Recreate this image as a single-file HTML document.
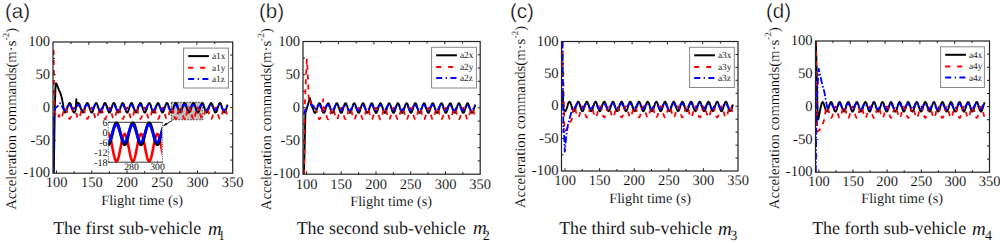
<!DOCTYPE html><html><head><meta charset="utf-8"><style>html,body{margin:0;padding:0;background:#fff;width:1000px;height:243px;overflow:hidden}text{text-rendering:geometricPrecision;stroke:#fff;stroke-width:0.12px;paint-order:fill}svg{display:block}</style></head><body>
<svg width="1000" height="243" viewBox="0 0 1000 243">
<g><text x="5.0" y="17.5" style="font-family:'Liberation Sans',sans-serif;font-size:20.5px;stroke-width:0.35px" fill="#000">(a)</text><text transform="translate(16.0,118.8) rotate(-90)" text-anchor="middle" style="font-family:'Liberation Serif',serif;font-size:14.7px" fill="#000">Acceleration commands(m·s<tspan dy="-7.5" style="font-size:9.5px">-2</tspan><tspan dy="7.5">)</tspan></text><text x="101.2" y="204.5" style="font-family:'Liberation Serif',serif;font-size:14.3px" fill="#000">Flight time (s)</text><text x="53.2" y="234.0" style="font-family:'Liberation Serif',serif;font-size:17.9px" fill="#000">The first sub-vehicle</text><text x="208.0" y="234.6" style="font-family:'Liberation Serif',serif;font-size:19px;font-style:italic" fill="#000">m</text><text x="218.0" y="239.6" style="font-family:'Liberation Serif',serif;font-size:14.2px" fill="#000">1</text><clipPath id="clip0"><rect x="53.0" y="42.0" width="179.7" height="131.2"/></clipPath><g clip-path="url(#clip0)" fill="none" stroke-width="1.8" stroke-linejoin="round"><path d="M53.8 173.2L54.8 107.6L55.5 86.0L56.0 83.3L56.9 84.6L58.9 89.9L60.4 93.2L61.8 97.8L62.9 103.7L63.9 109.6L64.6 112.2L64.9 112.5L65.1 112.6L65.4 112.6L65.6 112.4L65.9 112.1L66.1 111.6L66.4 111.1L66.6 110.4L66.8 109.7L67.1 108.9L67.3 108.1L67.6 107.2L67.8 106.4L68.1 105.6L68.3 104.9L68.6 104.3L68.8 103.8L69.1 103.4L69.3 103.1L69.6 103.0L69.8 103.0L70.1 103.2L70.3 103.5L70.5 104.0L70.8 104.6L71.0 105.2L71.3 106.0L71.5 106.8L71.8 107.6L72.0 108.4L72.3 109.2L72.5 110.0L72.8 110.7L73.0 111.3L73.3 111.8L73.5 112.2L73.8 112.5L74.0 112.6L74.2 112.5L74.5 112.4L74.7 112.0L75.0 111.6L75.2 111.0L75.5 110.3L75.7 109.6L75.8 109.2L76.3 99.1L76.7 106.4L76.7 106.3L77.0 105.5L77.2 104.8L77.5 104.2L77.7 103.7L77.9 103.3L78.2 103.1L78.4 103.0L78.7 103.1L78.9 103.3L79.2 103.6L79.4 104.1L79.7 104.6L79.9 105.3L80.2 106.1L80.4 106.9L80.7 107.7L80.9 108.5L81.2 109.4L81.4 110.1L81.6 110.8L81.9 111.4L82.1 111.9L82.4 112.3L82.6 112.5L82.9 112.6L83.1 112.5L83.4 112.3L83.6 112.0L83.9 111.5L84.1 110.9L84.4 110.2L84.6 109.5L84.9 108.7L85.1 107.8L85.3 107.0L85.6 106.2L85.8 105.4L86.1 104.7L86.3 104.1L86.6 103.7L86.8 103.3L87.1 103.1L87.3 103.0L87.6 103.1L87.8 103.3L88.1 103.7L88.3 104.1L88.6 104.7L88.8 105.4L89.0 106.2L89.3 107.0L89.5 107.8L89.8 108.7L90.0 109.5L90.3 110.2L90.5 110.9L90.8 111.5L91.0 112.0L91.3 112.3L91.5 112.5L91.8 112.6L92.0 112.5L92.3 112.3L92.5 111.9L92.7 111.4L93.0 110.8L93.2 110.1L93.5 109.4L93.7 108.5L94.0 107.7L94.2 106.9L94.5 106.1L94.7 105.3L95.0 104.6L95.2 104.1L95.5 103.6L95.7 103.3L96.0 103.1L96.2 103.0L96.4 103.1L96.7 103.3L96.9 103.7L97.2 104.2L97.4 104.8L97.7 105.5L97.9 106.3L98.2 107.1L98.4 107.9L98.7 108.8L98.9 109.6L99.2 110.3L99.4 111.0L99.7 111.6L99.9 112.0L100.1 112.4L100.4 112.5L100.6 112.6L100.9 112.5L101.1 112.2L101.4 111.8L101.6 111.3L101.9 110.7L102.1 110.0L102.4 109.2L102.6 108.4L102.9 107.6L103.1 106.8L103.4 106.0L103.6 105.2L103.8 104.6L104.1 104.0L104.3 103.5L104.6 103.2L104.8 103.0L105.1 103.0L105.3 103.1L105.6 103.4L105.8 103.8L106.1 104.3L106.3 104.9L106.6 105.6L106.8 106.4L107.1 107.2L107.3 108.1L107.5 108.9L107.8 109.7L108.0 110.4L108.3 111.1L108.5 111.6L108.8 112.1L109.0 112.4L109.3 112.6L109.5 112.6L109.8 112.5L110.0 112.2L110.3 111.8L110.5 111.3L110.8 110.6L111.0 109.9L111.2 109.1L111.5 108.3L111.7 107.5L112.0 106.6L112.2 105.8L112.5 105.1L112.7 104.5L113.0 103.9L113.2 103.5L113.5 103.2L113.7 103.0L114.0 103.0L114.2 103.2L114.5 103.4L114.7 103.8L114.9 104.4L115.2 105.0L115.4 105.7L115.7 106.5L115.9 107.3L116.2 108.2L116.4 109.0L116.7 109.8L116.9 110.5L117.2 111.2L117.4 111.7L117.7 112.1L117.9 112.4L118.2 112.6L118.4 112.6L118.6 112.4L118.9 112.1L119.1 111.7L119.4 111.2L119.6 110.5L119.9 109.8L120.1 109.0L120.4 108.2L120.6 107.3L120.9 106.5L121.1 105.7L121.4 105.0L121.6 104.4L121.8 103.8L122.1 103.4L122.3 103.2L122.6 103.0L122.8 103.0L123.1 103.2L123.3 103.5L123.6 103.9L123.8 104.5L124.1 105.1L124.3 105.8L124.6 106.6L124.8 107.5L125.1 108.3L125.3 109.1L125.5 109.9L125.8 110.6L126.0 111.3L126.3 111.8L126.5 112.2L126.8 112.5L127.0 112.6L127.3 112.6L127.5 112.4L127.8 112.1L128.0 111.6L128.3 111.1L128.5 110.4L128.8 109.7L129.0 108.9L129.2 108.1L129.5 107.2L129.7 106.4L130.0 105.6L130.2 104.9L130.5 104.3L130.7 103.8L131.0 103.4L131.2 103.1L131.5 103.0L131.7 103.0L132.0 103.2L132.2 103.5L132.5 104.0L132.7 104.6L132.9 105.2L133.2 106.0L133.4 106.8L133.7 107.6L133.9 108.4L134.2 109.2L134.4 110.0L134.7 110.7L134.9 111.3L135.2 111.8L135.4 112.2L135.7 112.5L135.9 112.6L136.2 112.5L136.4 112.4L136.6 112.0L136.9 111.6L137.1 111.0L137.4 110.3L137.6 109.6L137.9 108.8L138.1 107.9L138.4 107.1L138.6 106.3L138.9 105.5L139.1 104.8L139.4 104.2L139.6 103.7L139.9 103.3L140.1 103.1L140.3 103.0L140.6 103.1L140.8 103.3L141.1 103.6L141.3 104.1L141.6 104.6L141.8 105.3L142.1 106.1L142.3 106.9L142.6 107.7L142.8 108.5L143.1 109.4L143.3 110.1L143.6 110.8L143.8 111.4L144.0 111.9L144.3 112.3L144.5 112.5L144.8 112.6L145.0 112.5L145.3 112.3L145.5 112.0L145.8 111.5L146.0 110.9L146.3 110.2L146.5 109.5L146.8 108.7L147.0 107.8L147.3 107.0L147.5 106.2L147.7 105.4L148.0 104.7L148.2 104.1L148.5 103.7L148.7 103.3L149.0 103.1L149.2 103.0L149.5 103.1L149.7 103.3L150.0 103.7L150.2 104.1L150.5 104.7L150.7 105.4L151.0 106.2L151.2 107.0L151.4 107.8L151.7 108.7L151.9 109.5L152.2 110.2L152.4 110.9L152.7 111.5L152.9 112.0L153.2 112.3L153.4 112.5L153.7 112.6L153.9 112.5L154.2 112.3L154.4 111.9L154.7 111.4L154.9 110.8L155.1 110.1L155.4 109.4L155.6 108.5L155.9 107.7L156.1 106.9L156.4 106.1L156.6 105.3L156.9 104.6L157.1 104.1L157.4 103.6L157.6 103.3L157.9 103.1L158.1 103.0L158.4 103.1L158.6 103.3L158.8 103.7L159.1 104.2L159.3 104.8L159.6 105.5L159.8 106.3L160.1 107.1L160.3 107.9L160.6 108.8L160.8 109.6L161.1 110.3L161.3 111.0L161.6 111.6L161.8 112.0L162.1 112.4L162.3 112.5L162.5 112.6L162.8 112.5L163.0 112.2L163.3 111.8L163.5 111.3L163.8 110.7L164.0 110.0L164.3 109.2L164.5 108.4L164.8 107.6L165.0 106.8L165.3 106.0L165.5 105.2L165.8 104.6L166.0 104.0L166.2 103.5L166.5 103.2L166.7 103.0L167.0 103.0L167.2 103.1L167.5 103.4L167.7 103.8L168.0 104.3L168.2 104.9L168.5 105.6L168.7 106.4L169.0 107.2L169.2 108.1L169.5 108.9L169.7 109.7L169.9 110.4L170.2 111.1L170.4 111.6L170.7 112.1L170.9 112.4L171.2 112.6L171.4 112.6L171.7 112.5L171.9 112.2L172.2 111.8L172.4 111.3L172.7 110.6L172.9 109.9L173.2 109.1L173.4 108.3L173.6 107.5L173.9 106.6L174.1 105.8L174.4 105.1L174.6 104.5L174.9 103.9L175.1 103.5L175.4 103.2L175.6 103.0L175.9 103.0L176.1 103.2L176.4 103.4L176.6 103.8L176.9 104.4L177.1 105.0L177.3 105.7L177.6 106.5L177.8 107.3L178.1 108.2L178.3 109.0L178.6 109.8L178.8 110.5L179.1 111.2L179.3 111.7L179.6 112.1L179.8 112.4L180.1 112.6L180.3 112.6L180.6 112.4L180.8 112.1L181.0 111.7L181.3 111.2L181.5 110.5L181.8 109.8L182.0 109.0L182.3 108.2L182.5 107.3L182.8 106.5L183.0 105.7L183.3 105.0L183.5 104.4L183.8 103.8L184.0 103.4L184.3 103.2L184.5 103.0L184.7 103.0L185.0 103.2L185.2 103.5L185.5 103.9L185.7 104.5L186.0 105.1L186.2 105.8L186.5 106.6L186.7 107.5L187.0 108.3L187.2 109.1L187.5 109.9L187.7 110.6L188.0 111.3L188.2 111.8L188.4 112.2L188.7 112.5L188.9 112.6L189.2 112.6L189.4 112.4L189.7 112.1L189.9 111.6L190.2 111.1L190.4 110.4L190.7 109.7L190.9 108.9L191.2 108.1L191.4 107.2L191.7 106.4L191.9 105.6L192.1 104.9L192.4 104.3L192.6 103.8L192.9 103.4L193.1 103.1L193.4 103.0L193.6 103.0L193.9 103.2L194.1 103.5L194.4 104.0L194.6 104.6L194.9 105.2L195.1 106.0L195.4 106.8L195.6 107.6L195.8 108.4L196.1 109.2L196.3 110.0L196.6 110.7L196.8 111.3L197.1 111.8L197.3 112.2L197.6 112.5L197.8 112.6L198.1 112.5L198.3 112.4L198.6 112.0L198.8 111.6L199.1 111.0L199.3 110.3L199.5 109.6L199.8 108.8L200.0 107.9L200.3 107.1L200.5 106.3L200.8 105.5L201.0 104.8L201.3 104.2L201.5 103.7L201.8 103.3L202.0 103.1L202.3 103.0L202.5 103.1L202.8 103.3L203.0 103.6L203.2 104.1L203.5 104.6L203.7 105.3L204.0 106.1L204.2 106.9L204.5 107.7L204.7 108.5L205.0 109.4L205.2 110.1L205.5 110.8L205.7 111.4L206.0 111.9L206.2 112.3L206.4 112.5L206.7 112.6L206.9 112.5L207.2 112.3L207.4 112.0L207.7 111.5L207.9 110.9L208.2 110.2L208.4 109.5L208.7 108.7L208.9 107.8L209.2 107.0L209.4 106.2L209.7 105.4L209.9 104.7L210.1 104.1L210.4 103.7L210.6 103.3L210.9 103.1L211.1 103.0L211.4 103.1L211.6 103.3L211.9 103.7L212.1 104.1L212.4 104.7L212.6 105.4L212.9 106.2L213.1 107.0L213.4 107.8L213.6 108.7L213.8 109.5L214.1 110.2L214.3 110.9L214.6 111.5L214.8 112.0L215.1 112.3L215.3 112.5L215.6 112.6L215.8 112.5L216.1 112.3L216.3 111.9L216.6 111.4L216.8 110.8L217.1 110.1L217.3 109.4L217.5 108.5L217.8 107.7L218.0 106.9L218.3 106.1L218.5 105.3L218.8 104.6L219.0 104.1L219.3 103.6L219.5 103.3L219.8 103.1L220.0 103.0L220.3 103.1L220.5 103.3L220.8 103.7L221.0 104.2L221.2 104.8L221.5 105.5L221.7 106.3L222.0 107.1L222.2 107.9L222.5 108.8L222.7 109.6L223.0 110.3L223.2 111.0L223.5 111.6L223.7 112.0L224.0 112.4L224.2 112.5L224.5 112.6L224.7 112.5L224.9 112.2L225.2 111.8L225.4 111.3L225.7 110.7L225.9 110.0L226.2 109.2L226.4 108.4L226.7 107.6L226.9 106.8L227.2 106.0L227.4 105.2L227.7 104.6" stroke="#000" stroke-width="1.9"/><path d="M53.6 49.9L54.3 107.6L55.1 112.8L57.6 118.1L59.0 114.9L59.2 115.8L59.5 116.6L59.7 117.4L60.0 118.0L60.2 118.4L60.5 118.7L60.7 118.9L61.0 118.8L61.2 118.6L61.5 118.3L61.7 117.7L61.9 117.1L62.2 116.3L62.4 115.4L62.7 114.5L62.9 113.5L63.2 112.5L63.4 111.5L63.7 110.6L63.9 109.8L64.2 109.1L64.4 108.5L64.7 108.0L64.9 107.7L65.2 107.6L65.4 107.7L65.6 107.9L65.9 108.3L66.1 108.8L66.4 109.5L66.6 110.3L66.9 111.1L67.1 112.1L67.4 113.1L67.6 114.1L67.9 115.0L68.1 115.9L68.4 116.7L68.6 117.5L68.9 118.0L69.1 118.5L69.3 118.8L69.6 118.9L69.8 118.8L70.1 118.6L70.3 118.2L70.6 117.6L70.8 117.0L71.1 116.2L71.3 115.3L71.6 114.3L71.8 113.3L72.1 112.4L72.3 111.4L72.6 110.5L72.8 109.7L73.0 109.0L73.3 108.4L73.5 108.0L73.8 107.7L74.0 107.6L74.3 107.7L74.5 107.9L74.8 108.3L75.0 108.9L75.3 109.6L75.5 110.4L75.8 111.3L76.0 112.2L76.3 113.2L76.5 114.2L76.7 115.1L77.0 116.0L77.2 116.9L77.5 117.6L77.7 118.1L78.0 118.5L78.2 118.8L78.5 118.9L78.7 118.8L79.0 118.5L79.2 118.1L79.5 117.6L79.7 116.9L80.0 116.0L80.2 115.1L80.4 114.2L80.7 113.2L80.9 112.2L81.2 111.3L81.4 110.4L81.7 109.6L81.9 108.9L82.2 108.3L82.4 107.9L82.7 107.7L82.9 107.6L83.2 107.7L83.4 108.0L83.7 108.4L83.9 109.0L84.1 109.7L84.4 110.5L84.6 111.4L84.9 112.4L85.1 113.3L85.4 114.3L85.6 115.3L85.9 116.2L86.1 117.0L86.4 117.6L86.6 118.2L86.9 118.6L87.1 118.8L87.4 118.9L87.6 118.8L87.8 118.5L88.1 118.0L88.3 117.5L88.6 116.7L88.8 115.9L89.1 115.0L89.3 114.1L89.6 113.1L89.8 112.1L90.1 111.1L90.3 110.3L90.6 109.5L90.8 108.8L91.1 108.3L91.3 107.9L91.5 107.7L91.8 107.6L92.0 107.7L92.3 108.0L92.5 108.5L92.8 109.1L93.0 109.8L93.3 110.6L93.5 111.5L93.8 112.5L94.0 113.5L94.3 114.5L94.5 115.4L94.8 116.3L95.0 117.1L95.2 117.7L95.5 118.3L95.7 118.6L96.0 118.8L96.2 118.9L96.5 118.7L96.7 118.4L97.0 118.0L97.2 117.4L97.5 116.6L97.7 115.8L98.0 114.9L98.2 113.9L98.5 112.9L98.7 111.9L98.9 111.0L99.2 110.1L99.4 109.4L99.7 108.7L99.9 108.2L100.2 107.8L100.4 107.6L100.7 107.6L100.9 107.8L101.2 108.1L101.4 108.5L101.7 109.2L101.9 109.9L102.2 110.8L102.4 111.7L102.6 112.6L102.9 113.6L103.1 114.6L103.4 115.5L103.6 116.4L103.9 117.2L104.1 117.8L104.4 118.3L104.6 118.7L104.9 118.9L105.1 118.9L105.4 118.7L105.6 118.4L105.9 117.9L106.1 117.3L106.3 116.5L106.6 115.7L106.8 114.7L107.1 113.8L107.3 112.8L107.6 111.8L107.8 110.9L108.1 110.0L108.3 109.3L108.6 108.6L108.8 108.1L109.1 107.8L109.3 107.6L109.6 107.6L109.8 107.8L110.0 108.1L110.3 108.6L110.5 109.3L110.8 110.0L111.0 110.9L111.3 111.8L111.5 112.8L111.8 113.8L112.0 114.7L112.3 115.7L112.5 116.5L112.8 117.3L113.0 117.9L113.3 118.4L113.5 118.7L113.7 118.9L114.0 118.9L114.2 118.7L114.5 118.3L114.7 117.8L115.0 117.2L115.2 116.4L115.5 115.5L115.7 114.6L116.0 113.6L116.2 112.6L116.5 111.7L116.7 110.8L117.0 109.9L117.2 109.2L117.4 108.5L117.7 108.1L117.9 107.8L118.2 107.6L118.4 107.6L118.7 107.8L118.9 108.2L119.2 108.7L119.4 109.4L119.7 110.1L119.9 111.0L120.2 111.9L120.4 112.9L120.7 113.9L120.9 114.9L121.1 115.8L121.4 116.6L121.6 117.4L121.9 118.0L122.1 118.4L122.4 118.7L122.6 118.9L122.9 118.8L123.1 118.6L123.4 118.3L123.6 117.7L123.9 117.1L124.1 116.3L124.4 115.4L124.6 114.5L124.8 113.5L125.1 112.5L125.3 111.5L125.6 110.6L125.8 109.8L126.1 109.1L126.3 108.5L126.6 108.0L126.8 107.7L127.1 107.6L127.3 107.7L127.6 107.9L127.8 108.3L128.1 108.8L128.3 109.5L128.5 110.3L128.8 111.1L129.0 112.1L129.3 113.1L129.5 114.1L129.8 115.0L130.0 115.9L130.3 116.7L130.5 117.5L130.8 118.0L131.0 118.5L131.3 118.8L131.5 118.9L131.8 118.8L132.0 118.6L132.2 118.2L132.5 117.6L132.7 117.0L133.0 116.2L133.2 115.3L133.5 114.3L133.7 113.3L134.0 112.4L134.2 111.4L134.5 110.5L134.7 109.7L135.0 109.0L135.2 108.4L135.5 108.0L135.7 107.7L135.9 107.6L136.2 107.7L136.4 107.9L136.7 108.3L136.9 108.9L137.2 109.6L137.4 110.4L137.7 111.3L137.9 112.2L138.2 113.2L138.4 114.2L138.7 115.1L138.9 116.0L139.2 116.9L139.4 117.6L139.6 118.1L139.9 118.5L140.1 118.8L140.4 118.9L140.6 118.8L140.9 118.5L141.1 118.1L141.4 117.6L141.6 116.9L141.9 116.0L142.1 115.1L142.4 114.2L142.6 113.2L142.8 112.2L143.1 111.3L143.3 110.4L143.6 109.6L143.8 108.9L144.1 108.3L144.3 107.9L144.6 107.7L144.8 107.6L145.1 107.7L145.3 108.0L145.6 108.4L145.8 109.0L146.1 109.7L146.3 110.5L146.5 111.4L146.8 112.4L147.0 113.3L147.3 114.3L147.5 115.3L147.8 116.2L148.0 117.0L148.3 117.6L148.5 118.2L148.8 118.6L149.0 118.8L149.3 118.9L149.5 118.8L149.8 118.5L150.0 118.0L150.2 117.5L150.5 116.7L150.7 115.9L151.0 115.0L151.2 114.1L151.5 113.1L151.7 112.1L152.0 111.1L152.2 110.3L152.5 109.5L152.7 108.8L153.0 108.3L153.2 107.9L153.5 107.7L153.7 107.6L153.9 107.7L154.2 108.0L154.4 108.5L154.7 109.1L154.9 109.8L155.2 110.6L155.4 111.5L155.7 112.5L155.9 113.5L156.2 114.5L156.4 115.4L156.7 116.3L156.9 117.1L157.2 117.7L157.4 118.3L157.6 118.6L157.9 118.8L158.1 118.9L158.4 118.7L158.6 118.4L158.9 118.0L159.1 117.4L159.4 116.6L159.6 115.8L159.9 114.9L160.1 113.9L160.4 112.9L160.6 111.9L160.9 111.0L161.1 110.1L161.3 109.4L161.6 108.7L161.8 108.2L162.1 107.8L162.3 107.6L162.6 107.6L162.8 107.8L163.1 108.1L163.3 108.5L163.6 109.2L163.8 109.9L164.1 110.8L164.3 111.7L164.6 112.6L164.8 113.6L165.0 114.6L165.3 115.5L165.5 116.4L165.8 117.2L166.0 117.8L166.3 118.3L166.5 118.7L166.8 118.9L167.0 118.9L167.3 118.7L167.5 118.4L167.8 117.9L168.0 117.3L168.3 116.5L168.5 115.7L168.7 114.7L169.0 113.8L169.2 112.8L169.5 111.8L169.7 110.9L170.0 110.0L170.2 109.3L170.5 108.6L170.7 108.1L171.0 107.8L171.2 107.6L171.5 107.6L171.7 107.8L172.0 108.1L172.2 108.6L172.4 109.3L172.7 110.0L172.9 110.9L173.2 111.8L173.4 112.8L173.7 113.8L173.9 114.7L174.2 115.7L174.4 116.5L174.7 117.3L174.9 117.9L175.2 118.4L175.4 118.7L175.7 118.9L175.9 118.9L176.1 118.7L176.4 118.3L176.6 117.8L176.9 117.2L177.1 116.4L177.4 115.5L177.6 114.6L177.9 113.6L178.1 112.6L178.4 111.7L178.6 110.8L178.9 109.9L179.1 109.2L179.4 108.5L179.6 108.1L179.8 107.8L180.1 107.6L180.3 107.6L180.6 107.8L180.8 108.2L181.1 108.7L181.3 109.4L181.6 110.1L181.8 111.0L182.1 111.9L182.3 112.9L182.6 113.9L182.8 114.9L183.1 115.8L183.3 116.6L183.5 117.4L183.8 118.0L184.0 118.4L184.3 118.7L184.5 118.9L184.8 118.8L185.0 118.6L185.3 118.3L185.5 117.7L185.8 117.1L186.0 116.3L186.3 115.4L186.5 114.5L186.8 113.5L187.0 112.5L187.2 111.5L187.5 110.6L187.7 109.8L188.0 109.1L188.2 108.5L188.5 108.0L188.7 107.7L189.0 107.6L189.2 107.7L189.5 107.9L189.7 108.3L190.0 108.8L190.2 109.5L190.5 110.3L190.7 111.1L190.9 112.1L191.2 113.1L191.4 114.1L191.7 115.0L191.9 115.9L192.2 116.7L192.4 117.5L192.7 118.0L192.9 118.5L193.2 118.8L193.4 118.9L193.7 118.8L193.9 118.6L194.2 118.2L194.4 117.6L194.6 117.0L194.9 116.2L195.1 115.3L195.4 114.3L195.6 113.3L195.9 112.4L196.1 111.4L196.4 110.5L196.6 109.7L196.9 109.0L197.1 108.4L197.4 108.0L197.6 107.7L197.9 107.6L198.1 107.7L198.3 107.9L198.6 108.3L198.8 108.9L199.1 109.6L199.3 110.4L199.6 111.3L199.8 112.2L200.1 113.2L200.3 114.2L200.6 115.1L200.8 116.0L201.1 116.9L201.3 117.6L201.6 118.1L201.8 118.5L202.0 118.8L202.3 118.9L202.5 118.8L202.8 118.5L203.0 118.1L203.3 117.6L203.5 116.9L203.8 116.0L204.0 115.1L204.3 114.2L204.5 113.2L204.8 112.2L205.0 111.3L205.3 110.4L205.5 109.6L205.7 108.9L206.0 108.3L206.2 107.9L206.5 107.7L206.7 107.6L207.0 107.7L207.2 108.0L207.5 108.4L207.7 109.0L208.0 109.7L208.2 110.5L208.5 111.4L208.7 112.4L209.0 113.3L209.2 114.3L209.4 115.3L209.7 116.2L209.9 117.0L210.2 117.6L210.4 118.2L210.7 118.6L210.9 118.8L211.2 118.9L211.4 118.8L211.7 118.5L211.9 118.0L212.2 117.5L212.4 116.7L212.7 115.9L212.9 115.0L213.1 114.1L213.4 113.1L213.6 112.1L213.9 111.1L214.1 110.3L214.4 109.5L214.6 108.8L214.9 108.3L215.1 107.9L215.4 107.7L215.6 107.6L215.9 107.7L216.1 108.0L216.4 108.5L216.6 109.1L216.8 109.8L217.1 110.6L217.3 111.5L217.6 112.5L217.8 113.5L218.1 114.5L218.3 115.4L218.6 116.3L218.8 117.1L219.1 117.7L219.3 118.3L219.6 118.6L219.8 118.8L220.1 118.9L220.3 118.7L220.5 118.4L220.8 118.0L221.0 117.4L221.3 116.6L221.5 115.8L221.8 114.9L222.0 113.9L222.3 112.9L222.5 111.9L222.8 111.0L223.0 110.1L223.3 109.4L223.5 108.7L223.8 108.2L224.0 107.8L224.2 107.6L224.5 107.6L224.7 107.8L225.0 108.1L225.2 108.5L225.5 109.2L225.7 109.9L226.0 110.8L226.2 111.7L226.5 112.6L226.7 113.6L227.0 114.6L227.2 115.5L227.4 116.4L227.7 117.2" stroke="#f00" stroke-dasharray="5 5"/><path d="M53.4 173.2L54.0 110.9L55.8 107.6L57.4 106.6L60.0 103.3L61.5 104.6L62.5 107.4L62.8 107.9L63.0 108.3L63.3 108.8L63.5 109.2L63.7 109.5L64.0 109.7L64.2 109.9L64.5 110.1L64.7 110.1L65.0 110.0L65.2 109.9L65.5 109.7L65.7 109.4L66.0 109.1L66.2 108.7L66.5 108.3L66.7 107.8L67.0 107.4L67.2 106.9L67.4 106.4L67.7 106.0L67.9 105.6L68.2 105.3L68.4 105.0L68.7 104.9L68.9 104.7L69.2 104.7L69.4 104.8L69.7 104.9L69.9 105.1L70.2 105.4L70.4 105.7L70.7 106.1L70.9 106.6L71.1 107.0L71.4 107.5L71.6 108.0L71.9 108.4L72.1 108.8L72.4 109.2L72.6 109.5L72.9 109.8L73.1 110.0L73.4 110.1L73.6 110.1L73.9 110.0L74.1 109.9L74.4 109.7L74.6 109.4L74.8 109.0L75.1 108.6L75.3 108.2L75.6 107.8L75.8 107.3L76.1 106.8L76.3 106.4L76.6 106.0L76.8 105.6L77.1 105.3L77.3 105.0L77.6 104.8L77.8 104.7L78.1 104.7L78.3 104.8L78.5 104.9L78.8 105.1L79.0 105.4L79.3 105.8L79.5 106.2L79.8 106.6L80.0 107.1L80.3 107.6L80.5 108.0L80.8 108.5L81.0 108.9L81.3 109.3L81.5 109.6L81.8 109.8L82.0 110.0L82.2 110.1L82.5 110.1L82.7 110.0L83.0 109.9L83.2 109.6L83.5 109.3L83.7 109.0L84.0 108.6L84.2 108.2L84.5 107.7L84.7 107.2L85.0 106.8L85.2 106.3L85.5 105.9L85.7 105.5L85.9 105.2L86.2 105.0L86.4 104.8L86.7 104.7L86.9 104.7L87.2 104.8L87.4 105.0L87.7 105.2L87.9 105.5L88.2 105.8L88.4 106.2L88.7 106.7L88.9 107.2L89.2 107.6L89.4 108.1L89.6 108.5L89.9 108.9L90.1 109.3L90.4 109.6L90.6 109.8L90.9 110.0L91.1 110.1L91.4 110.1L91.6 110.0L91.9 109.8L92.1 109.6L92.4 109.3L92.6 108.9L92.9 108.5L93.1 108.1L93.3 107.6L93.6 107.2L93.8 106.7L94.1 106.2L94.3 105.8L94.6 105.5L94.8 105.2L95.1 105.0L95.3 104.8L95.6 104.7L95.8 104.7L96.1 104.8L96.3 105.0L96.6 105.2L96.8 105.5L97.0 105.9L97.3 106.3L97.5 106.8L97.8 107.2L98.0 107.7L98.3 108.2L98.5 108.6L98.8 109.0L99.0 109.3L99.3 109.6L99.5 109.9L99.8 110.0L100.0 110.1L100.3 110.1L100.5 110.0L100.7 109.8L101.0 109.6L101.2 109.3L101.5 108.9L101.7 108.5L102.0 108.0L102.2 107.6L102.5 107.1L102.7 106.6L103.0 106.2L103.2 105.8L103.5 105.4L103.7 105.1L104.0 104.9L104.2 104.8L104.4 104.7L104.7 104.7L104.9 104.8L105.2 105.0L105.4 105.3L105.7 105.6L105.9 106.0L106.2 106.4L106.4 106.8L106.7 107.3L106.9 107.8L107.2 108.2L107.4 108.6L107.6 109.0L107.9 109.4L108.1 109.7L108.4 109.9L108.6 110.0L108.9 110.1L109.1 110.1L109.4 110.0L109.6 109.8L109.9 109.5L110.1 109.2L110.4 108.8L110.6 108.4L110.9 108.0L111.1 107.5L111.3 107.0L111.6 106.6L111.8 106.1L112.1 105.7L112.3 105.4L112.6 105.1L112.8 104.9L113.1 104.8L113.3 104.7L113.6 104.7L113.8 104.9L114.1 105.0L114.3 105.3L114.6 105.6L114.8 106.0L115.0 106.4L115.3 106.9L115.5 107.4L115.8 107.8L116.0 108.3L116.3 108.7L116.5 109.1L116.8 109.4L117.0 109.7L117.3 109.9L117.5 110.0L117.8 110.1L118.0 110.1L118.3 109.9L118.5 109.7L118.7 109.5L119.0 109.2L119.2 108.8L119.5 108.3L119.7 107.9L120.0 107.4L120.2 107.0L120.5 106.5L120.7 106.1L121.0 105.7L121.2 105.3L121.5 105.1L121.7 104.9L122.0 104.8L122.2 104.7L122.4 104.8L122.7 104.9L122.9 105.1L123.2 105.3L123.4 105.7L123.7 106.1L123.9 106.5L124.2 107.0L124.4 107.4L124.7 107.9L124.9 108.3L125.2 108.8L125.4 109.2L125.7 109.5L125.9 109.7L126.1 109.9L126.4 110.1L126.6 110.1L126.9 110.0L127.1 109.9L127.4 109.7L127.6 109.4L127.9 109.1L128.1 108.7L128.4 108.3L128.6 107.8L128.9 107.4L129.1 106.9L129.4 106.4L129.6 106.0L129.8 105.6L130.1 105.3L130.3 105.0L130.6 104.9L130.8 104.7L131.1 104.7L131.3 104.8L131.6 104.9L131.8 105.1L132.1 105.4L132.3 105.7L132.6 106.1L132.8 106.6L133.1 107.0L133.3 107.5L133.5 108.0L133.8 108.4L134.0 108.8L134.3 109.2L134.5 109.5L134.8 109.8L135.0 110.0L135.3 110.1L135.5 110.1L135.8 110.0L136.0 109.9L136.3 109.7L136.5 109.4L136.8 109.0L137.0 108.6L137.2 108.2L137.5 107.8L137.7 107.3L138.0 106.8L138.2 106.4L138.5 106.0L138.7 105.6L139.0 105.3L139.2 105.0L139.5 104.8L139.7 104.7L140.0 104.7L140.2 104.8L140.5 104.9L140.7 105.1L140.9 105.4L141.2 105.8L141.4 106.2L141.7 106.6L141.9 107.1L142.2 107.6L142.4 108.0L142.7 108.5L142.9 108.9L143.2 109.3L143.4 109.6L143.7 109.8L143.9 110.0L144.2 110.1L144.4 110.1L144.6 110.0L144.9 109.9L145.1 109.6L145.4 109.3L145.6 109.0L145.9 108.6L146.1 108.2L146.4 107.7L146.6 107.2L146.9 106.8L147.1 106.3L147.4 105.9L147.6 105.5L147.9 105.2L148.1 105.0L148.3 104.8L148.6 104.7L148.8 104.7L149.1 104.8L149.3 105.0L149.6 105.2L149.8 105.5L150.1 105.8L150.3 106.2L150.6 106.7L150.8 107.2L151.1 107.6L151.3 108.1L151.6 108.5L151.8 108.9L152.0 109.3L152.3 109.6L152.5 109.8L152.8 110.0L153.0 110.1L153.3 110.1L153.5 110.0L153.8 109.8L154.0 109.6L154.3 109.3L154.5 108.9L154.8 108.5L155.0 108.1L155.3 107.6L155.5 107.2L155.7 106.7L156.0 106.2L156.2 105.8L156.5 105.5L156.7 105.2L157.0 105.0L157.2 104.8L157.5 104.7L157.7 104.7L158.0 104.8L158.2 105.0L158.5 105.2L158.7 105.5L159.0 105.9L159.2 106.3L159.4 106.8L159.7 107.2L159.9 107.7L160.2 108.2L160.4 108.6L160.7 109.0L160.9 109.3L161.2 109.6L161.4 109.9L161.7 110.0L161.9 110.1L162.2 110.1L162.4 110.0L162.7 109.8L162.9 109.6L163.1 109.3L163.4 108.9L163.6 108.5L163.9 108.0L164.1 107.6L164.4 107.1L164.6 106.6L164.9 106.2L165.1 105.8L165.4 105.4L165.6 105.1L165.9 104.9L166.1 104.8L166.4 104.7L166.6 104.7L166.8 104.8L167.1 105.0L167.3 105.3L167.6 105.6L167.8 106.0L168.1 106.4L168.3 106.8L168.6 107.3L168.8 107.8L169.1 108.2L169.3 108.6L169.6 109.0L169.8 109.4L170.1 109.7L170.3 109.9L170.5 110.0L170.8 110.1L171.0 110.1L171.3 110.0L171.5 109.8L171.8 109.5L172.0 109.2L172.3 108.8L172.5 108.4L172.8 108.0L173.0 107.5L173.3 107.0L173.5 106.6L173.8 106.1L174.0 105.7L174.2 105.4L174.5 105.1L174.7 104.9L175.0 104.8L175.2 104.7L175.5 104.7L175.7 104.9L176.0 105.0L176.2 105.3L176.5 105.6L176.7 106.0L177.0 106.4L177.2 106.9L177.5 107.4L177.7 107.8L177.9 108.3L178.2 108.7L178.4 109.1L178.7 109.4L178.9 109.7L179.2 109.9L179.4 110.0L179.7 110.1L179.9 110.1L180.2 109.9L180.4 109.7L180.7 109.5L180.9 109.2L181.2 108.8L181.4 108.3L181.6 107.9L181.9 107.4L182.1 107.0L182.4 106.5L182.6 106.1L182.9 105.7L183.1 105.3L183.4 105.1L183.6 104.9L183.9 104.8L184.1 104.7L184.4 104.8L184.6 104.9L184.9 105.1L185.1 105.3L185.3 105.7L185.6 106.1L185.8 106.5L186.1 107.0L186.3 107.4L186.6 107.9L186.8 108.3L187.1 108.8L187.3 109.2L187.6 109.5L187.8 109.7L188.1 109.9L188.3 110.1L188.6 110.1L188.8 110.0L189.0 109.9L189.3 109.7L189.5 109.4L189.8 109.1L190.0 108.7L190.3 108.3L190.5 107.8L190.8 107.4L191.0 106.9L191.3 106.4L191.5 106.0L191.8 105.6L192.0 105.3L192.2 105.0L192.5 104.9L192.7 104.7L193.0 104.7L193.2 104.8L193.5 104.9L193.7 105.1L194.0 105.4L194.2 105.7L194.5 106.1L194.7 106.6L195.0 107.0L195.2 107.5L195.5 108.0L195.7 108.4L195.9 108.8L196.2 109.2L196.4 109.5L196.7 109.8L196.9 110.0L197.2 110.1L197.4 110.1L197.7 110.0L197.9 109.9L198.2 109.7L198.4 109.4L198.7 109.0L198.9 108.6L199.2 108.2L199.4 107.8L199.6 107.3L199.9 106.8L200.1 106.4L200.4 106.0L200.6 105.6L200.9 105.3L201.1 105.0L201.4 104.8L201.6 104.7L201.9 104.7L202.1 104.8L202.4 104.9L202.6 105.1L202.9 105.4L203.1 105.8L203.3 106.2L203.6 106.6L203.8 107.1L204.1 107.6L204.3 108.0L204.6 108.5L204.8 108.9L205.1 109.3L205.3 109.6L205.6 109.8L205.8 110.0L206.1 110.1L206.3 110.1L206.6 110.0L206.8 109.9L207.0 109.6L207.3 109.3L207.5 109.0L207.8 108.6L208.0 108.2L208.3 107.7L208.5 107.2L208.8 106.8L209.0 106.3L209.3 105.9L209.5 105.5L209.8 105.2L210.0 105.0L210.3 104.8L210.5 104.7L210.7 104.7L211.0 104.8L211.2 105.0L211.5 105.2L211.7 105.5L212.0 105.8L212.2 106.2L212.5 106.7L212.7 107.2L213.0 107.6L213.2 108.1L213.5 108.5L213.7 108.9L214.0 109.3L214.2 109.6L214.4 109.8L214.7 110.0L214.9 110.1L215.2 110.1L215.4 110.0L215.7 109.8L215.9 109.6L216.2 109.3L216.4 108.9L216.7 108.5L216.9 108.1L217.2 107.6L217.4 107.2L217.7 106.7L217.9 106.2L218.1 105.8L218.4 105.5L218.6 105.2L218.9 105.0L219.1 104.8L219.4 104.7L219.6 104.7L219.9 104.8L220.1 105.0L220.4 105.2L220.6 105.5L220.9 105.9L221.1 106.3L221.4 106.8L221.6 107.2L221.8 107.7L222.1 108.2L222.3 108.6L222.6 109.0L222.8 109.3L223.1 109.6L223.3 109.9L223.6 110.0L223.8 110.1L224.1 110.1L224.3 110.0L224.6 109.8L224.8 109.6L225.1 109.3L225.3 108.9L225.5 108.5L225.8 108.0L226.0 107.6L226.3 107.1L226.5 106.6L226.8 106.2L227.0 105.8L227.3 105.4L227.5 105.1" stroke="#00f" stroke-dasharray="7 2 1.5 2"/></g><rect x="53.0" y="42.0" width="179.7" height="131.2" fill="none" stroke="#222" stroke-width="1.2"/><path d="M56.5 173.2v-2.8M74.1 173.2v-2.0M91.8 173.2v-2.8M109.4 173.2v-2.0M127.0 173.2v-2.8M144.6 173.2v-2.0M162.2 173.2v-2.8M179.8 173.2v-2.0M197.5 173.2v-2.8M215.1 173.2v-2.0M71.0 42.0v2.0M88.9 42.0v2.8M106.9 42.0v2.0M124.9 42.0v2.8M142.8 42.0v2.0M160.8 42.0v2.8M178.8 42.0v2.0M196.8 42.0v2.8M214.7 42.0v2.0M53.0 156.8h2.0M53.0 140.4h2.8M53.0 124.0h2.0M53.0 107.6h2.8M53.0 91.2h2.0M53.0 74.8h2.8M53.0 58.4h2.0M232.7 160.1h-2.5M232.7 147.0h-2.5M232.7 133.8h-2.5M232.7 120.7h-2.5M232.7 107.6h-2.5M232.7 94.5h-2.5M232.7 81.4h-2.5M232.7 68.2h-2.5M232.7 55.1h-2.5" stroke="#222" stroke-width="1" fill="none"/><text x="56.5" y="187.0" text-anchor="middle" style="font-family:'Liberation Serif',serif;font-size:14.5px" fill="#000">100</text><text x="91.8" y="187.0" text-anchor="middle" style="font-family:'Liberation Serif',serif;font-size:14.5px" fill="#000">150</text><text x="127.0" y="187.0" text-anchor="middle" style="font-family:'Liberation Serif',serif;font-size:14.5px" fill="#000">200</text><text x="162.2" y="187.0" text-anchor="middle" style="font-family:'Liberation Serif',serif;font-size:14.5px" fill="#000">250</text><text x="197.5" y="187.0" text-anchor="middle" style="font-family:'Liberation Serif',serif;font-size:14.5px" fill="#000">300</text><text x="232.7" y="187.0" text-anchor="middle" style="font-family:'Liberation Serif',serif;font-size:14.5px" fill="#000">350</text><text x="50.2" y="46.1" text-anchor="end" style="font-family:'Liberation Serif',serif;font-size:14.7px" fill="#000">100</text><text x="50.2" y="78.9" text-anchor="end" style="font-family:'Liberation Serif',serif;font-size:14.7px" fill="#000">50</text><text x="50.2" y="111.7" text-anchor="end" style="font-family:'Liberation Serif',serif;font-size:14.7px" fill="#000">0</text><text x="50.2" y="144.5" text-anchor="end" style="font-family:'Liberation Serif',serif;font-size:14.7px" fill="#000">-50</text><text x="50.2" y="177.3" text-anchor="end" style="font-family:'Liberation Serif',serif;font-size:14.7px" fill="#000">-100</text><rect x="183.6" y="48.1" width="44.80000000000001" height="39.9" fill="#fff" stroke="#888" stroke-width="1"/><path d="M188.2 56.1H208.9" stroke="#000" stroke-width="2"/><path d="M188.2 67.7H208.9" stroke="#f00" stroke-width="2" stroke-dasharray="5 7"/><path d="M188.2 78.9H208.9" stroke="#00f" stroke-width="2" stroke-dasharray="6 3.5 1.2 3.5"/><text x="211.9" y="59.1" style="font-family:'Liberation Serif',serif;font-size:9.3px;stroke:none" fill="#222">a1x</text><text x="211.9" y="70.7" style="font-family:'Liberation Serif',serif;font-size:9.3px;stroke:none" fill="#222">a1y</text><text x="211.9" y="81.9" style="font-family:'Liberation Serif',serif;font-size:9.3px;stroke:none" fill="#222">a1z</text></g>
<g><text x="259.0" y="17.5" style="font-family:'Liberation Sans',sans-serif;font-size:20.5px;stroke-width:0.35px" fill="#000">(b)</text><text transform="translate(271.0,119.1) rotate(-90)" text-anchor="middle" style="font-family:'Liberation Serif',serif;font-size:14.7px" fill="#000">Acceleration commands(m·s<tspan dy="-7.5" style="font-size:9.5px">-2</tspan><tspan dy="7.5">)</tspan></text><text x="350.2" y="206.0" style="font-family:'Liberation Serif',serif;font-size:14.3px" fill="#000">Flight time (s)</text><text x="296.7" y="233.5" style="font-family:'Liberation Serif',serif;font-size:17.9px" fill="#000">The second sub-vehicle</text><text x="473.0" y="234.1" style="font-family:'Liberation Serif',serif;font-size:19px;font-style:italic" fill="#000">m</text><text x="482.8" y="239.6" style="font-family:'Liberation Serif',serif;font-size:14.2px" fill="#000">2</text><clipPath id="clip1"><rect x="303.0" y="41.5" width="177.2" height="132.7"/></clipPath><g clip-path="url(#clip1)" fill="none" stroke-width="1.8" stroke-linejoin="round"><path d="M304.0 174.2L305.4 113.2L307.5 105.9L309.9 98.2L312.0 106.5L313.1 108.8L313.3 109.6L313.6 110.4L313.8 111.1L314.0 111.7L314.3 112.2L314.5 112.6L314.8 112.8L315.0 112.9L315.3 112.8L315.5 112.6L315.8 112.3L316.0 111.8L316.2 111.2L316.5 110.5L316.7 109.7L317.0 108.9L317.2 108.1L317.5 107.2L317.7 106.4L317.9 105.6L318.2 104.9L318.4 104.3L318.7 103.9L318.9 103.5L319.2 103.3L319.4 103.2L319.6 103.3L319.9 103.5L320.1 103.9L320.4 104.3L320.6 104.9L320.9 105.6L321.1 106.4L321.3 107.2L321.6 108.1L321.8 108.9L322.1 109.7L322.3 110.5L322.6 111.2L322.8 111.8L323.0 112.3L323.3 112.6L323.5 112.8L323.8 112.9L324.0 112.8L324.3 112.6L324.5 112.2L324.8 111.7L325.0 111.1L325.2 110.4L325.5 109.6L325.7 108.8L326.0 108.0L326.2 107.1L326.5 106.3L326.7 105.5L326.9 104.9L327.2 104.3L327.4 103.8L327.7 103.5L327.9 103.3L328.2 103.2L328.4 103.3L328.6 103.5L328.9 103.9L329.1 104.4L329.4 105.0L329.6 105.8L329.9 106.5L330.1 107.4L330.3 108.2L330.6 109.0L330.8 109.9L331.1 110.6L331.3 111.3L331.6 111.9L331.8 112.3L332.0 112.7L332.3 112.8L332.5 112.9L332.8 112.8L333.0 112.5L333.3 112.1L333.5 111.6L333.7 111.0L334.0 110.3L334.2 109.5L334.5 108.7L334.7 107.8L335.0 107.0L335.2 106.2L335.5 105.4L335.7 104.8L335.9 104.2L336.2 103.7L336.4 103.4L336.7 103.2L336.9 103.2L337.2 103.3L337.4 103.6L337.6 104.0L337.9 104.5L338.1 105.1L338.4 105.9L338.6 106.6L338.9 107.5L339.1 108.3L339.3 109.2L339.6 110.0L339.8 110.7L340.1 111.4L340.3 111.9L340.6 112.4L340.8 112.7L341.0 112.9L341.3 112.9L341.5 112.8L341.8 112.5L342.0 112.1L342.3 111.5L342.5 110.9L342.7 110.2L343.0 109.4L343.2 108.6L343.5 107.7L343.7 106.9L344.0 106.1L344.2 105.3L344.5 104.7L344.7 104.1L344.9 103.7L345.2 103.4L345.4 103.2L345.7 103.2L345.9 103.4L346.2 103.6L346.4 104.1L346.6 104.6L346.9 105.2L347.1 106.0L347.4 106.8L347.6 107.6L347.9 108.4L348.1 109.3L348.3 110.1L348.6 110.8L348.8 111.5L349.1 112.0L349.3 112.4L349.6 112.7L349.8 112.9L350.0 112.9L350.3 112.7L350.5 112.4L350.8 112.0L351.0 111.5L351.3 110.8L351.5 110.1L351.7 109.3L352.0 108.4L352.2 107.6L352.5 106.8L352.7 106.0L353.0 105.2L353.2 104.6L353.4 104.1L353.7 103.6L353.9 103.4L354.2 103.2L354.4 103.2L354.7 103.4L354.9 103.7L355.2 104.1L355.4 104.7L355.6 105.3L355.9 106.1L356.1 106.9L356.4 107.7L356.6 108.6L356.9 109.4L357.1 110.2L357.3 110.9L357.6 111.5L357.8 112.1L358.1 112.5L358.3 112.8L358.6 112.9L358.8 112.9L359.0 112.7L359.3 112.4L359.5 111.9L359.8 111.4L360.0 110.7L360.3 110.0L360.5 109.2L360.7 108.3L361.0 107.5L361.2 106.6L361.5 105.9L361.7 105.1L362.0 104.5L362.2 104.0L362.4 103.6L362.7 103.3L362.9 103.2L363.2 103.2L363.4 103.4L363.7 103.7L363.9 104.2L364.2 104.8L364.4 105.4L364.6 106.2L364.9 107.0L365.1 107.8L365.4 108.7L365.6 109.5L365.9 110.3L366.1 111.0L366.3 111.6L366.6 112.1L366.8 112.5L367.1 112.8L367.3 112.9L367.6 112.8L367.8 112.7L368.0 112.3L368.3 111.9L368.5 111.3L368.8 110.6L369.0 109.9L369.3 109.0L369.5 108.2L369.7 107.4L370.0 106.5L370.2 105.8L370.5 105.0L370.7 104.4L371.0 103.9L371.2 103.5L371.4 103.3L371.7 103.2L371.9 103.3L372.2 103.5L372.4 103.8L372.7 104.3L372.9 104.9L373.2 105.5L373.4 106.3L373.6 107.1L373.9 108.0L374.1 108.8L374.4 109.6L374.6 110.4L374.9 111.1L375.1 111.7L375.3 112.2L375.6 112.6L375.8 112.8L376.1 112.9L376.3 112.8L376.6 112.6L376.8 112.3L377.0 111.8L377.3 111.2L377.5 110.5L377.8 109.7L378.0 108.9L378.3 108.1L378.5 107.2L378.7 106.4L379.0 105.6L379.2 104.9L379.5 104.3L379.7 103.9L380.0 103.5L380.2 103.3L380.4 103.2L380.7 103.3L380.9 103.5L381.2 103.9L381.4 104.3L381.7 104.9L381.9 105.6L382.1 106.4L382.4 107.2L382.6 108.1L382.9 108.9L383.1 109.7L383.4 110.5L383.6 111.2L383.9 111.8L384.1 112.3L384.3 112.6L384.6 112.8L384.8 112.9L385.1 112.8L385.3 112.6L385.6 112.2L385.8 111.7L386.0 111.1L386.3 110.4L386.5 109.6L386.8 108.8L387.0 108.0L387.3 107.1L387.5 106.3L387.7 105.5L388.0 104.9L388.2 104.3L388.5 103.8L388.7 103.5L389.0 103.3L389.2 103.2L389.4 103.3L389.7 103.5L389.9 103.9L390.2 104.4L390.4 105.0L390.7 105.8L390.9 106.5L391.1 107.4L391.4 108.2L391.6 109.0L391.9 109.9L392.1 110.6L392.4 111.3L392.6 111.9L392.9 112.3L393.1 112.7L393.3 112.8L393.6 112.9L393.8 112.8L394.1 112.5L394.3 112.1L394.6 111.6L394.8 111.0L395.0 110.3L395.3 109.5L395.5 108.7L395.8 107.8L396.0 107.0L396.3 106.2L396.5 105.4L396.7 104.8L397.0 104.2L397.2 103.7L397.5 103.4L397.7 103.2L398.0 103.2L398.2 103.3L398.4 103.6L398.7 104.0L398.9 104.5L399.2 105.1L399.4 105.9L399.7 106.6L399.9 107.5L400.1 108.3L400.4 109.2L400.6 110.0L400.9 110.7L401.1 111.4L401.4 111.9L401.6 112.4L401.8 112.7L402.1 112.9L402.3 112.9L402.6 112.8L402.8 112.5L403.1 112.1L403.3 111.5L403.6 110.9L403.8 110.2L404.0 109.4L404.3 108.6L404.5 107.7L404.8 106.9L405.0 106.1L405.3 105.3L405.5 104.7L405.7 104.1L406.0 103.7L406.2 103.4L406.5 103.2L406.7 103.2L407.0 103.4L407.2 103.6L407.4 104.1L407.7 104.6L407.9 105.2L408.2 106.0L408.4 106.8L408.7 107.6L408.9 108.4L409.1 109.3L409.4 110.1L409.6 110.8L409.9 111.5L410.1 112.0L410.4 112.4L410.6 112.7L410.8 112.9L411.1 112.9L411.3 112.7L411.6 112.4L411.8 112.0L412.1 111.5L412.3 110.8L412.6 110.1L412.8 109.3L413.0 108.4L413.3 107.6L413.5 106.8L413.8 106.0L414.0 105.2L414.3 104.6L414.5 104.1L414.7 103.6L415.0 103.4L415.2 103.2L415.5 103.2L415.7 103.4L416.0 103.7L416.2 104.1L416.4 104.7L416.7 105.3L416.9 106.1L417.2 106.9L417.4 107.7L417.7 108.6L417.9 109.4L418.1 110.2L418.4 110.9L418.6 111.5L418.9 112.1L419.1 112.5L419.4 112.8L419.6 112.9L419.8 112.9L420.1 112.7L420.3 112.4L420.6 111.9L420.8 111.4L421.1 110.7L421.3 110.0L421.6 109.2L421.8 108.3L422.0 107.5L422.3 106.6L422.5 105.9L422.8 105.1L423.0 104.5L423.3 104.0L423.5 103.6L423.7 103.3L424.0 103.2L424.2 103.2L424.5 103.4L424.7 103.7L425.0 104.2L425.2 104.8L425.4 105.4L425.7 106.2L425.9 107.0L426.2 107.8L426.4 108.7L426.7 109.5L426.9 110.3L427.1 111.0L427.4 111.6L427.6 112.1L427.9 112.5L428.1 112.8L428.4 112.9L428.6 112.8L428.8 112.7L429.1 112.3L429.3 111.9L429.6 111.3L429.8 110.6L430.1 109.9L430.3 109.0L430.5 108.2L430.8 107.4L431.0 106.5L431.3 105.8L431.5 105.0L431.8 104.4L432.0 103.9L432.3 103.5L432.5 103.3L432.7 103.2L433.0 103.3L433.2 103.5L433.5 103.8L433.7 104.3L434.0 104.9L434.2 105.5L434.4 106.3L434.7 107.1L434.9 108.0L435.2 108.8L435.4 109.6L435.7 110.4L435.9 111.1L436.1 111.7L436.4 112.2L436.6 112.6L436.9 112.8L437.1 112.9L437.4 112.8L437.6 112.6L437.8 112.3L438.1 111.8L438.3 111.2L438.6 110.5L438.8 109.7L439.1 108.9L439.3 108.1L439.5 107.2L439.8 106.4L440.0 105.6L440.3 104.9L440.5 104.3L440.8 103.9L441.0 103.5L441.3 103.3L441.5 103.2L441.7 103.3L442.0 103.5L442.2 103.9L442.5 104.3L442.7 104.9L443.0 105.6L443.2 106.4L443.4 107.2L443.7 108.1L443.9 108.9L444.2 109.7L444.4 110.5L444.7 111.2L444.9 111.8L445.1 112.3L445.4 112.6L445.6 112.8L445.9 112.9L446.1 112.8L446.4 112.6L446.6 112.2L446.8 111.7L447.1 111.1L447.3 110.4L447.6 109.6L447.8 108.8L448.1 108.0L448.3 107.1L448.5 106.3L448.8 105.5L449.0 104.9L449.3 104.3L449.5 103.8L449.8 103.5L450.0 103.3L450.2 103.2L450.5 103.3L450.7 103.5L451.0 103.9L451.2 104.4L451.5 105.0L451.7 105.8L452.0 106.5L452.2 107.4L452.4 108.2L452.7 109.0L452.9 109.9L453.2 110.6L453.4 111.3L453.7 111.9L453.9 112.3L454.1 112.7L454.4 112.8L454.6 112.9L454.9 112.8L455.1 112.5L455.4 112.1L455.6 111.6L455.8 111.0L456.1 110.3L456.3 109.5L456.6 108.7L456.8 107.8L457.1 107.0L457.3 106.2L457.5 105.4L457.8 104.8L458.0 104.2L458.3 103.7L458.5 103.4L458.8 103.2L459.0 103.2L459.2 103.3L459.5 103.6L459.7 104.0L460.0 104.5L460.2 105.1L460.5 105.9L460.7 106.6L461.0 107.5L461.2 108.3L461.4 109.2L461.7 110.0L461.9 110.7L462.2 111.4L462.4 111.9L462.7 112.4L462.9 112.7L463.1 112.9L463.4 112.9L463.6 112.8L463.9 112.5L464.1 112.1L464.4 111.5L464.6 110.9L464.8 110.2L465.1 109.4L465.3 108.6L465.6 107.7L465.8 106.9L466.1 106.1L466.3 105.3L466.5 104.7L466.8 104.1L467.0 103.7L467.3 103.4L467.5 103.2L467.8 103.2L468.0 103.4L468.2 103.6L468.5 104.1L468.7 104.6L469.0 105.2L469.2 106.0L469.5 106.8L469.7 107.6L470.0 108.4L470.2 109.3L470.4 110.1L470.7 110.8L470.9 111.5L471.2 112.0L471.4 112.4L471.7 112.7L471.9 112.9L472.1 112.9L472.4 112.7L472.6 112.4L472.9 112.0L473.1 111.5L473.4 110.8L473.6 110.1L473.8 109.3L474.1 108.4L474.3 107.6L474.6 106.8L474.8 106.0L475.1 105.2L475.3 104.6" stroke="#000" stroke-width="1.9"/><path d="M304.0 174.2L304.7 107.8L306.8 59.4L307.5 68.0L308.8 99.9L309.5 97.9L311.0 104.5L313.4 105.9L314.8 107.9L315.1 107.9L315.3 108.0L315.5 108.2L315.8 108.7L316.0 109.2L316.3 110.0L316.5 110.8L316.8 111.7L317.0 112.7L317.2 113.7L317.5 114.7L317.7 115.6L318.0 116.5L318.2 117.3L318.5 118.0L318.7 118.6L318.9 119.0L319.2 119.2L319.4 119.3L319.7 119.1L319.9 118.9L320.2 118.4L320.4 117.8L320.7 117.1L320.9 116.3L321.1 115.3L321.4 114.4L321.6 113.4L321.9 112.4L322.1 111.4L322.4 110.5L322.6 109.7L322.7 109.3L323.2 99.2L323.6 107.9L323.8 107.9L324.1 108.0L324.3 108.3L324.5 108.7L324.8 109.3L325.0 110.1L325.3 110.9L325.5 111.8L325.8 112.8L326.0 113.8L326.2 114.8L326.5 115.7L326.7 116.6L327.0 117.4L327.2 118.1L327.5 118.6L327.7 119.0L327.9 119.2L328.2 119.3L328.4 119.1L328.7 118.8L328.9 118.3L329.2 117.7L329.4 117.0L329.6 116.1L329.9 115.2L330.1 114.2L330.4 113.2L330.6 112.2L330.9 111.3L331.1 110.4L331.4 109.6L331.6 109.0L331.8 108.5L332.1 108.1L332.3 107.9L332.6 107.9L332.8 108.0L333.1 108.3L333.3 108.8L333.5 109.4L333.8 110.2L334.0 111.0L334.3 112.0L334.5 113.0L334.8 113.9L335.0 114.9L335.2 115.9L335.5 116.8L335.7 117.5L336.0 118.2L336.2 118.7L336.5 119.0L336.7 119.2L336.9 119.2L337.2 119.1L337.4 118.8L337.7 118.3L337.9 117.6L338.2 116.9L338.4 116.0L338.6 115.1L338.9 114.1L339.1 113.1L339.4 112.1L339.6 111.2L339.9 110.3L340.1 109.5L340.4 108.9L340.6 108.4L340.8 108.0L341.1 107.9L341.3 107.9L341.6 108.0L341.8 108.4L342.1 108.9L342.3 109.5L342.5 110.3L342.8 111.2L343.0 112.1L343.3 113.1L343.5 114.1L343.8 115.1L344.0 116.0L344.2 116.9L344.5 117.6L344.7 118.3L345.0 118.8L345.2 119.1L345.5 119.2L345.7 119.2L345.9 119.0L346.2 118.7L346.4 118.2L346.7 117.5L346.9 116.8L347.2 115.9L347.4 114.9L347.6 113.9L347.9 113.0L348.1 112.0L348.4 111.0L348.6 110.2L348.9 109.4L349.1 108.8L349.3 108.3L349.6 108.0L349.8 107.9L350.1 107.9L350.3 108.1L350.6 108.5L350.8 109.0L351.1 109.6L351.3 110.4L351.5 111.3L351.8 112.2L352.0 113.2L352.3 114.2L352.5 115.2L352.8 116.1L353.0 117.0L353.2 117.7L353.5 118.3L353.7 118.8L354.0 119.1L354.2 119.3L354.5 119.2L354.7 119.0L354.9 118.6L355.2 118.1L355.4 117.4L355.7 116.6L355.9 115.7L356.2 114.8L356.4 113.8L356.6 112.8L356.9 111.8L357.1 110.9L357.4 110.1L357.6 109.3L357.9 108.7L358.1 108.3L358.3 108.0L358.6 107.9L358.8 107.9L359.1 108.1L359.3 108.5L359.6 109.1L359.8 109.7L360.1 110.5L360.3 111.4L360.5 112.4L360.8 113.4L361.0 114.4L361.3 115.3L361.5 116.3L361.8 117.1L362.0 117.8L362.2 118.4L362.5 118.9L362.7 119.1L363.0 119.3L363.2 119.2L363.5 119.0L363.7 118.6L363.9 118.0L364.2 117.3L364.4 116.5L364.7 115.6L364.9 114.7L365.2 113.7L365.4 112.7L365.6 111.7L365.9 110.8L366.1 110.0L366.4 109.2L366.6 108.7L366.9 108.2L367.1 108.0L367.3 107.9L367.6 107.9L367.8 108.2L368.1 108.6L368.3 109.1L368.6 109.8L368.8 110.7L369.1 111.6L369.3 112.5L369.5 113.5L369.8 114.5L370.0 115.5L370.3 116.4L370.5 117.2L370.8 117.9L371.0 118.5L371.2 118.9L371.5 119.2L371.7 119.3L372.0 119.2L372.2 118.9L372.5 118.5L372.7 117.9L372.9 117.2L373.2 116.4L373.4 115.5L373.7 114.5L373.9 113.5L374.2 112.5L374.4 111.6L374.6 110.7L374.9 109.8L375.1 109.1L375.4 108.6L375.6 108.2L375.9 107.9L376.1 107.9L376.3 108.0L376.6 108.2L376.8 108.7L377.1 109.2L377.3 110.0L377.6 110.8L377.8 111.7L378.0 112.7L378.3 113.7L378.5 114.7L378.8 115.6L379.0 116.5L379.3 117.3L379.5 118.0L379.8 118.6L380.0 119.0L380.2 119.2L380.5 119.3L380.7 119.1L381.0 118.9L381.2 118.4L381.5 117.8L381.7 117.1L381.9 116.3L382.2 115.3L382.4 114.4L382.7 113.4L382.9 112.4L383.2 111.4L383.4 110.5L383.6 109.7L383.9 109.1L384.1 108.5L384.4 108.1L384.6 107.9L384.9 107.9L385.1 108.0L385.3 108.3L385.6 108.7L385.8 109.3L386.1 110.1L386.3 110.9L386.6 111.8L386.8 112.8L387.0 113.8L387.3 114.8L387.5 115.7L387.8 116.6L388.0 117.4L388.3 118.1L388.5 118.6L388.8 119.0L389.0 119.2L389.2 119.3L389.5 119.1L389.7 118.8L390.0 118.3L390.2 117.7L390.5 117.0L390.7 116.1L390.9 115.2L391.2 114.2L391.4 113.2L391.7 112.2L391.9 111.3L392.2 110.4L392.4 109.6L392.6 109.0L392.9 108.5L393.1 108.1L393.4 107.9L393.6 107.9L393.9 108.0L394.1 108.3L394.3 108.8L394.6 109.4L394.8 110.2L395.1 111.0L395.3 112.0L395.6 113.0L395.8 113.9L396.0 114.9L396.3 115.9L396.5 116.8L396.8 117.5L397.0 118.2L397.3 118.7L397.5 119.0L397.7 119.2L398.0 119.2L398.2 119.1L398.5 118.8L398.7 118.3L399.0 117.6L399.2 116.9L399.5 116.0L399.7 115.1L399.9 114.1L400.2 113.1L400.4 112.1L400.7 111.2L400.9 110.3L401.2 109.5L401.4 108.9L401.6 108.4L401.9 108.0L402.1 107.9L402.4 107.9L402.6 108.0L402.9 108.4L403.1 108.9L403.3 109.5L403.6 110.3L403.8 111.2L404.1 112.1L404.3 113.1L404.6 114.1L404.8 115.1L405.0 116.0L405.3 116.9L405.5 117.6L405.8 118.3L406.0 118.8L406.3 119.1L406.5 119.2L406.7 119.2L407.0 119.0L407.2 118.7L407.5 118.2L407.7 117.5L408.0 116.8L408.2 115.9L408.5 114.9L408.7 113.9L408.9 113.0L409.2 112.0L409.4 111.0L409.7 110.2L409.9 109.4L410.2 108.8L410.4 108.3L410.6 108.0L410.9 107.9L411.1 107.9L411.4 108.1L411.6 108.5L411.9 109.0L412.1 109.6L412.3 110.4L412.6 111.3L412.8 112.2L413.1 113.2L413.3 114.2L413.6 115.2L413.8 116.1L414.0 117.0L414.3 117.7L414.5 118.3L414.8 118.8L415.0 119.1L415.3 119.3L415.5 119.2L415.7 119.0L416.0 118.6L416.2 118.1L416.5 117.4L416.7 116.6L417.0 115.7L417.2 114.8L417.5 113.8L417.7 112.8L417.9 111.8L418.2 110.9L418.4 110.1L418.7 109.3L418.9 108.7L419.2 108.3L419.4 108.0L419.6 107.9L419.9 107.9L420.1 108.1L420.4 108.5L420.6 109.1L420.9 109.7L421.1 110.5L421.3 111.4L421.6 112.4L421.8 113.4L422.1 114.4L422.3 115.3L422.6 116.3L422.8 117.1L423.0 117.8L423.3 118.4L423.5 118.9L423.8 119.1L424.0 119.3L424.3 119.2L424.5 119.0L424.7 118.6L425.0 118.0L425.2 117.3L425.5 116.5L425.7 115.6L426.0 114.7L426.2 113.7L426.4 112.7L426.7 111.7L426.9 110.8L427.2 110.0L427.4 109.2L427.7 108.7L427.9 108.2L428.2 108.0L428.4 107.9L428.6 107.9L428.9 108.2L429.1 108.6L429.4 109.1L429.6 109.8L429.9 110.7L430.1 111.6L430.3 112.5L430.6 113.5L430.8 114.5L431.1 115.5L431.3 116.4L431.6 117.2L431.8 117.9L432.0 118.5L432.3 118.9L432.5 119.2L432.8 119.3L433.0 119.2L433.3 118.9L433.5 118.5L433.7 117.9L434.0 117.2L434.2 116.4L434.5 115.5L434.7 114.5L435.0 113.5L435.2 112.5L435.4 111.6L435.7 110.7L435.9 109.8L436.2 109.1L436.4 108.6L436.7 108.2L436.9 107.9L437.2 107.9L437.4 108.0L437.6 108.2L437.9 108.7L438.1 109.2L438.4 110.0L438.6 110.8L438.9 111.7L439.1 112.7L439.3 113.7L439.6 114.7L439.8 115.6L440.1 116.5L440.3 117.3L440.6 118.0L440.8 118.6L441.0 119.0L441.3 119.2L441.5 119.3L441.8 119.1L442.0 118.9L442.3 118.4L442.5 117.8L442.7 117.1L443.0 116.3L443.2 115.3L443.5 114.4L443.7 113.4L444.0 112.4L444.2 111.4L444.4 110.5L444.7 109.7L444.9 109.1L445.2 108.5L445.4 108.1L445.7 107.9L445.9 107.9L446.1 108.0L446.4 108.3L446.6 108.7L446.9 109.3L447.1 110.1L447.4 110.9L447.6 111.8L447.9 112.8L448.1 113.8L448.3 114.8L448.6 115.7L448.8 116.6L449.1 117.4L449.3 118.1L449.6 118.6L449.8 119.0L450.0 119.2L450.3 119.3L450.5 119.1L450.8 118.8L451.0 118.3L451.3 117.7L451.5 117.0L451.7 116.1L452.0 115.2L452.2 114.2L452.5 113.2L452.7 112.2L453.0 111.3L453.2 110.4L453.4 109.6L453.7 109.0L453.9 108.5L454.2 108.1L454.4 107.9L454.7 107.9L454.9 108.0L455.1 108.3L455.4 108.8L455.6 109.4L455.9 110.2L456.1 111.0L456.4 112.0L456.6 113.0L456.9 113.9L457.1 114.9L457.3 115.9L457.6 116.8L457.8 117.5L458.1 118.2L458.3 118.7L458.6 119.0L458.8 119.2L459.0 119.2L459.3 119.1L459.5 118.8L459.8 118.3L460.0 117.6L460.3 116.9L460.5 116.0L460.7 115.1L461.0 114.1L461.2 113.1L461.5 112.1L461.7 111.2L462.0 110.3L462.2 109.5L462.4 108.9L462.7 108.4L462.9 108.0L463.2 107.9L463.4 107.9L463.7 108.0L463.9 108.4L464.1 108.9L464.4 109.5L464.6 110.3L464.9 111.2L465.1 112.1L465.4 113.1L465.6 114.1L465.9 115.1L466.1 116.0L466.3 116.9L466.6 117.6L466.8 118.3L467.1 118.8L467.3 119.1L467.6 119.2L467.8 119.2L468.0 119.0L468.3 118.7L468.5 118.2L468.8 117.5L469.0 116.8L469.3 115.9L469.5 114.9L469.7 113.9L470.0 113.0L470.2 112.0L470.5 111.0L470.7 110.2L471.0 109.4L471.2 108.8L471.4 108.3L471.7 108.0L471.9 107.9L472.2 107.9L472.4 108.1L472.7 108.5L472.9 109.0L473.1 109.6L473.4 110.4L473.6 111.3L473.9 112.2L474.1 113.2L474.4 114.2L474.6 115.2L474.8 116.1L475.1 117.0" stroke="#f00" stroke-dasharray="5 5"/><path d="M303.6 114.5L308.0 105.2L309.9 104.5L313.4 105.5L315.2 110.1L315.4 109.9L315.6 109.6L315.9 109.2L316.1 108.8L316.4 108.3L316.6 107.9L316.9 107.4L317.1 106.9L317.3 106.5L317.6 106.1L317.8 105.7L318.1 105.4L318.3 105.2L318.6 105.0L318.8 104.9L319.1 104.9L319.3 105.0L319.5 105.2L319.8 105.4L320.0 105.8L320.3 106.1L320.5 106.5L320.8 107.0L321.0 107.5L321.2 107.9L321.5 108.4L321.7 108.9L322.0 109.3L322.2 109.6L322.5 109.9L322.7 110.1L322.9 110.3L323.2 110.4L323.4 110.4L323.7 110.3L323.9 110.1L324.2 109.8L324.4 109.5L324.6 109.1L324.9 108.7L325.1 108.3L325.4 107.8L325.6 107.3L325.9 106.9L326.1 106.4L326.3 106.0L326.6 105.7L326.8 105.4L327.1 105.1L327.3 105.0L327.6 104.9L327.8 105.0L328.1 105.1L328.3 105.2L328.5 105.5L328.8 105.8L329.0 106.2L329.3 106.6L329.5 107.1L329.8 107.5L330.0 108.0L330.2 108.5L330.5 108.9L330.7 109.3L331.0 109.7L331.2 110.0L331.5 110.2L331.7 110.3L331.9 110.4L332.2 110.3L332.4 110.2L332.7 110.1L332.9 109.8L333.2 109.5L333.4 109.1L333.6 108.7L333.9 108.2L334.1 107.7L334.4 107.3L334.6 106.8L334.9 106.4L335.1 106.0L335.3 105.6L335.6 105.3L335.8 105.1L336.1 105.0L336.3 104.9L336.6 105.0L336.8 105.1L337.1 105.3L337.3 105.5L337.5 105.9L337.8 106.2L338.0 106.7L338.3 107.1L338.5 107.6L338.8 108.1L339.0 108.5L339.2 109.0L339.5 109.4L339.7 109.7L340.0 110.0L340.2 110.2L340.5 110.3L340.7 110.4L340.9 110.3L341.2 110.2L341.4 110.0L341.7 109.8L341.9 109.4L342.2 109.0L342.4 108.6L342.6 108.1L342.9 107.7L343.1 107.2L343.4 106.7L343.6 106.3L343.9 105.9L344.1 105.6L344.3 105.3L344.6 105.1L344.8 105.0L345.1 104.9L345.3 105.0L345.6 105.1L345.8 105.3L346.0 105.6L346.3 105.9L346.5 106.3L346.8 106.7L347.0 107.2L347.3 107.7L347.5 108.1L347.8 108.6L348.0 109.0L348.2 109.4L348.5 109.8L348.7 110.0L349.0 110.2L349.2 110.3L349.5 110.4L349.7 110.3L349.9 110.2L350.2 110.0L350.4 109.7L350.7 109.4L350.9 109.0L351.2 108.5L351.4 108.1L351.6 107.6L351.9 107.1L352.1 106.7L352.4 106.2L352.6 105.9L352.9 105.5L353.1 105.3L353.3 105.1L353.6 105.0L353.8 104.9L354.1 105.0L354.3 105.1L354.6 105.3L354.8 105.6L355.0 106.0L355.3 106.4L355.5 106.8L355.8 107.3L356.0 107.7L356.3 108.2L356.5 108.7L356.8 109.1L357.0 109.5L357.2 109.8L357.5 110.1L357.7 110.2L358.0 110.3L358.2 110.4L358.5 110.3L358.7 110.2L358.9 110.0L359.2 109.7L359.4 109.3L359.7 108.9L359.9 108.5L360.2 108.0L360.4 107.5L360.6 107.1L360.9 106.6L361.1 106.2L361.4 105.8L361.6 105.5L361.9 105.2L362.1 105.1L362.3 105.0L362.6 104.9L362.8 105.0L363.1 105.1L363.3 105.4L363.6 105.7L363.8 106.0L364.0 106.4L364.3 106.9L364.5 107.3L364.8 107.8L365.0 108.3L365.3 108.7L365.5 109.1L365.7 109.5L366.0 109.8L366.2 110.1L366.5 110.3L366.7 110.4L367.0 110.4L367.2 110.3L367.5 110.1L367.7 109.9L367.9 109.6L368.2 109.3L368.4 108.9L368.7 108.4L368.9 107.9L369.2 107.5L369.4 107.0L369.6 106.5L369.9 106.1L370.1 105.8L370.4 105.4L370.6 105.2L370.9 105.0L371.1 104.9L371.3 104.9L371.6 105.0L371.8 105.2L372.1 105.4L372.3 105.7L372.6 106.1L372.8 106.5L373.0 106.9L373.3 107.4L373.5 107.9L373.8 108.3L374.0 108.8L374.3 109.2L374.5 109.6L374.7 109.9L375.0 110.1L375.2 110.3L375.5 110.4L375.7 110.4L376.0 110.3L376.2 110.1L376.5 109.9L376.7 109.6L376.9 109.2L377.2 108.8L377.4 108.3L377.7 107.9L377.9 107.4L378.2 106.9L378.4 106.5L378.6 106.1L378.9 105.7L379.1 105.4L379.4 105.2L379.6 105.0L379.9 104.9L380.1 104.9L380.3 105.0L380.6 105.2L380.8 105.4L381.1 105.8L381.3 106.1L381.6 106.5L381.8 107.0L382.0 107.5L382.3 107.9L382.5 108.4L382.8 108.9L383.0 109.3L383.3 109.6L383.5 109.9L383.7 110.1L384.0 110.3L384.2 110.4L384.5 110.4L384.7 110.3L385.0 110.1L385.2 109.8L385.5 109.5L385.7 109.1L385.9 108.7L386.2 108.3L386.4 107.8L386.7 107.3L386.9 106.9L387.2 106.4L387.4 106.0L387.6 105.7L387.9 105.4L388.1 105.1L388.4 105.0L388.6 104.9L388.9 105.0L389.1 105.1L389.3 105.2L389.6 105.5L389.8 105.8L390.1 106.2L390.3 106.6L390.6 107.1L390.8 107.5L391.0 108.0L391.3 108.5L391.5 108.9L391.8 109.3L392.0 109.7L392.3 110.0L392.5 110.2L392.7 110.3L393.0 110.4L393.2 110.3L393.5 110.2L393.7 110.1L394.0 109.8L394.2 109.5L394.4 109.1L394.7 108.7L394.9 108.2L395.2 107.7L395.4 107.3L395.7 106.8L395.9 106.4L396.2 106.0L396.4 105.6L396.6 105.3L396.9 105.1L397.1 105.0L397.4 104.9L397.6 105.0L397.9 105.1L398.1 105.3L398.3 105.5L398.6 105.9L398.8 106.2L399.1 106.7L399.3 107.1L399.6 107.6L399.8 108.1L400.0 108.5L400.3 109.0L400.5 109.4L400.8 109.7L401.0 110.0L401.3 110.2L401.5 110.3L401.7 110.4L402.0 110.3L402.2 110.2L402.5 110.0L402.7 109.8L403.0 109.4L403.2 109.0L403.4 108.6L403.7 108.1L403.9 107.7L404.2 107.2L404.4 106.7L404.7 106.3L404.9 105.9L405.2 105.6L405.4 105.3L405.6 105.1L405.9 105.0L406.1 104.9L406.4 105.0L406.6 105.1L406.9 105.3L407.1 105.6L407.3 105.9L407.6 106.3L407.8 106.7L408.1 107.2L408.3 107.7L408.6 108.1L408.8 108.6L409.0 109.0L409.3 109.4L409.5 109.8L409.8 110.0L410.0 110.2L410.3 110.3L410.5 110.4L410.7 110.3L411.0 110.2L411.2 110.0L411.5 109.7L411.7 109.4L412.0 109.0L412.2 108.5L412.4 108.1L412.7 107.6L412.9 107.1L413.2 106.7L413.4 106.2L413.7 105.9L413.9 105.5L414.1 105.3L414.4 105.1L414.6 105.0L414.9 104.9L415.1 105.0L415.4 105.1L415.6 105.3L415.9 105.6L416.1 106.0L416.3 106.4L416.6 106.8L416.8 107.3L417.1 107.7L417.3 108.2L417.6 108.7L417.8 109.1L418.0 109.5L418.3 109.8L418.5 110.1L418.8 110.2L419.0 110.3L419.3 110.4L419.5 110.3L419.7 110.2L420.0 110.0L420.2 109.7L420.5 109.3L420.7 108.9L421.0 108.5L421.2 108.0L421.4 107.5L421.7 107.1L421.9 106.6L422.2 106.2L422.4 105.8L422.7 105.5L422.9 105.2L423.1 105.1L423.4 105.0L423.6 104.9L423.9 105.0L424.1 105.1L424.4 105.4L424.6 105.7L424.9 106.0L425.1 106.4L425.3 106.9L425.6 107.3L425.8 107.8L426.1 108.3L426.3 108.7L426.6 109.1L426.8 109.5L427.0 109.8L427.3 110.1L427.5 110.3L427.8 110.4L428.0 110.4L428.3 110.3L428.5 110.1L428.7 109.9L429.0 109.6L429.2 109.3L429.5 108.9L429.7 108.4L430.0 107.9L430.2 107.5L430.4 107.0L430.7 106.5L430.9 106.1L431.2 105.8L431.4 105.4L431.7 105.2L431.9 105.0L432.1 104.9L432.4 104.9L432.6 105.0L432.9 105.2L433.1 105.4L433.4 105.7L433.6 106.1L433.9 106.5L434.1 106.9L434.3 107.4L434.6 107.9L434.8 108.3L435.1 108.8L435.3 109.2L435.6 109.6L435.8 109.9L436.0 110.1L436.3 110.3L436.5 110.4L436.8 110.4L437.0 110.3L437.3 110.1L437.5 109.9L437.7 109.6L438.0 109.2L438.2 108.8L438.5 108.3L438.7 107.9L439.0 107.4L439.2 106.9L439.4 106.5L439.7 106.1L439.9 105.7L440.2 105.4L440.4 105.2L440.7 105.0L440.9 104.9L441.1 104.9L441.4 105.0L441.6 105.2L441.9 105.4L442.1 105.8L442.4 106.1L442.6 106.5L442.8 107.0L443.1 107.5L443.3 107.9L443.6 108.4L443.8 108.9L444.1 109.3L444.3 109.6L444.6 109.9L444.8 110.1L445.0 110.3L445.3 110.4L445.5 110.4L445.8 110.3L446.0 110.1L446.3 109.8L446.5 109.5L446.7 109.1L447.0 108.7L447.2 108.3L447.5 107.8L447.7 107.3L448.0 106.9L448.2 106.4L448.4 106.0L448.7 105.7L448.9 105.4L449.2 105.1L449.4 105.0L449.7 104.9L449.9 105.0L450.1 105.1L450.4 105.2L450.6 105.5L450.9 105.8L451.1 106.2L451.4 106.6L451.6 107.1L451.8 107.5L452.1 108.0L452.3 108.5L452.6 108.9L452.8 109.3L453.1 109.7L453.3 110.0L453.6 110.2L453.8 110.3L454.0 110.4L454.3 110.3L454.5 110.2L454.8 110.1L455.0 109.8L455.3 109.5L455.5 109.1L455.7 108.7L456.0 108.2L456.2 107.7L456.5 107.3L456.7 106.8L457.0 106.4L457.2 106.0L457.4 105.6L457.7 105.3L457.9 105.1L458.2 105.0L458.4 104.9L458.7 105.0L458.9 105.1L459.1 105.3L459.4 105.5L459.6 105.9L459.9 106.2L460.1 106.7L460.4 107.1L460.6 107.6L460.8 108.1L461.1 108.5L461.3 109.0L461.6 109.4L461.8 109.7L462.1 110.0L462.3 110.2L462.5 110.3L462.8 110.4L463.0 110.3L463.3 110.2L463.5 110.0L463.8 109.8L464.0 109.4L464.3 109.0L464.5 108.6L464.7 108.1L465.0 107.7L465.2 107.2L465.5 106.7L465.7 106.3L466.0 105.9L466.2 105.6L466.4 105.3L466.7 105.1L466.9 105.0L467.2 104.9L467.4 105.0L467.7 105.1L467.9 105.3L468.1 105.6L468.4 105.9L468.6 106.3L468.9 106.7L469.1 107.2L469.4 107.7L469.6 108.1L469.8 108.6L470.1 109.0L470.3 109.4L470.6 109.8L470.8 110.0L471.1 110.2L471.3 110.3L471.5 110.4L471.8 110.3L472.0 110.2L472.3 110.0L472.5 109.7L472.8 109.4L473.0 109.0L473.3 108.5L473.5 108.1L473.7 107.6L474.0 107.1L474.2 106.7L474.5 106.2L474.7 105.9L475.0 105.5L475.2 105.3" stroke="#00f" stroke-dasharray="7 2 1.5 2"/></g><rect x="303.0" y="41.5" width="177.2" height="132.7" fill="none" stroke="#222" stroke-width="1.2"/><path d="M306.5 174.2v-2.8M323.8 174.2v-2.0M341.2 174.2v-2.8M358.6 174.2v-2.0M376.0 174.2v-2.8M393.3 174.2v-2.0M410.7 174.2v-2.8M428.1 174.2v-2.0M445.5 174.2v-2.8M462.8 174.2v-2.0M320.7 41.5v2.0M338.4 41.5v2.8M356.2 41.5v2.0M373.9 41.5v2.8M391.6 41.5v2.0M409.3 41.5v2.8M427.0 41.5v2.0M444.8 41.5v2.8M462.5 41.5v2.0M303.0 157.6h2.0M303.0 141.0h2.8M303.0 124.4h2.0M303.0 107.8h2.8M303.0 91.3h2.0M303.0 74.7h2.8M303.0 58.1h2.0M480.2 160.9h-2.5M480.2 147.7h-2.5M480.2 134.4h-2.5M480.2 121.1h-2.5M480.2 107.8h-2.5M480.2 94.6h-2.5M480.2 81.3h-2.5M480.2 68.0h-2.5M480.2 54.8h-2.5" stroke="#222" stroke-width="1" fill="none"/><text x="306.5" y="189.1" text-anchor="middle" style="font-family:'Liberation Serif',serif;font-size:14.5px" fill="#000">100</text><text x="341.2" y="189.1" text-anchor="middle" style="font-family:'Liberation Serif',serif;font-size:14.5px" fill="#000">150</text><text x="376.0" y="189.1" text-anchor="middle" style="font-family:'Liberation Serif',serif;font-size:14.5px" fill="#000">200</text><text x="410.7" y="189.1" text-anchor="middle" style="font-family:'Liberation Serif',serif;font-size:14.5px" fill="#000">250</text><text x="445.5" y="189.1" text-anchor="middle" style="font-family:'Liberation Serif',serif;font-size:14.5px" fill="#000">300</text><text x="480.2" y="189.1" text-anchor="middle" style="font-family:'Liberation Serif',serif;font-size:14.5px" fill="#000">350</text><text x="300.2" y="45.6" text-anchor="end" style="font-family:'Liberation Serif',serif;font-size:14.7px" fill="#000">100</text><text x="300.2" y="78.8" text-anchor="end" style="font-family:'Liberation Serif',serif;font-size:14.7px" fill="#000">50</text><text x="300.2" y="111.9" text-anchor="end" style="font-family:'Liberation Serif',serif;font-size:14.7px" fill="#000">0</text><text x="300.2" y="145.1" text-anchor="end" style="font-family:'Liberation Serif',serif;font-size:14.7px" fill="#000">-50</text><text x="300.2" y="178.3" text-anchor="end" style="font-family:'Liberation Serif',serif;font-size:14.7px" fill="#000">-100</text><rect x="431.6" y="47.3" width="44.799999999999955" height="40.7" fill="#fff" stroke="#888" stroke-width="1"/><path d="M436.20000000000005 55.3H456.90000000000003" stroke="#000" stroke-width="2"/><path d="M436.20000000000005 66.9H456.90000000000003" stroke="#f00" stroke-width="2" stroke-dasharray="5 7"/><path d="M436.20000000000005 78.1H456.90000000000003" stroke="#00f" stroke-width="2" stroke-dasharray="6 3.5 1.2 3.5"/><text x="459.90000000000003" y="58.3" style="font-family:'Liberation Serif',serif;font-size:9.3px;stroke:none" fill="#222">a2x</text><text x="459.90000000000003" y="69.9" style="font-family:'Liberation Serif',serif;font-size:9.3px;stroke:none" fill="#222">a2y</text><text x="459.90000000000003" y="81.1" style="font-family:'Liberation Serif',serif;font-size:9.3px;stroke:none" fill="#222">a2z</text></g>
<g><text x="510.0" y="17.5" style="font-family:'Liberation Sans',sans-serif;font-size:20.5px;stroke-width:0.35px" fill="#000">(c)</text><text transform="translate(525.0,117.0) rotate(-90)" text-anchor="middle" style="font-family:'Liberation Serif',serif;font-size:14.7px" fill="#000">Acceleration commands(m·s<tspan dy="-7.5" style="font-size:9.5px">-2</tspan><tspan dy="7.5">)</tspan></text><text x="609.2" y="202.8" style="font-family:'Liberation Serif',serif;font-size:14.3px" fill="#000">Flight time (s)</text><text x="559.2" y="234.0" style="font-family:'Liberation Serif',serif;font-size:17.9px" fill="#000">The third sub-vehicle</text><text x="718.0" y="234.6" style="font-family:'Liberation Serif',serif;font-size:19px;font-style:italic" fill="#000">m</text><text x="730.3" y="239.6" style="font-family:'Liberation Serif',serif;font-size:14.2px" fill="#000">3</text><clipPath id="clip2"><rect x="561.5" y="41.5" width="176.5" height="129.5"/></clipPath><g clip-path="url(#clip2)" fill="none" stroke-width="1.8" stroke-linejoin="round"><path d="M562.7 90.1L563.3 106.2L563.6 108.4L563.8 109.1L564.1 109.8L564.3 110.3L564.5 110.7L564.8 111.0L565.0 111.2L565.3 111.2L565.5 111.0L565.8 110.7L566.0 110.3L566.2 109.8L566.5 109.1L566.7 108.4L567.0 107.6L567.2 106.8L567.5 106.0L567.7 105.2L567.9 104.4L568.2 103.7L568.4 103.1L568.7 102.5L568.9 102.1L569.1 101.9L569.4 101.7L569.6 101.7L569.9 101.9L570.1 102.2L570.4 102.6L570.6 103.2L570.8 103.8L571.1 104.5L571.3 105.3L571.6 106.1L571.8 106.9L572.1 107.8L572.3 108.5L572.5 109.2L572.8 109.9L573.0 110.4L573.3 110.8L573.5 111.0L573.8 111.2L574.0 111.1L574.2 111.0L574.5 110.7L574.7 110.2L575.0 109.7L575.2 109.0L575.4 108.3L575.7 107.5L575.9 106.7L576.2 105.9L576.4 105.1L576.7 104.3L576.9 103.6L577.1 103.0L577.4 102.5L577.6 102.1L577.9 101.8L578.1 101.7L578.4 101.8L578.6 101.9L578.8 102.2L579.1 102.7L579.3 103.2L579.6 103.9L579.8 104.6L580.0 105.4L580.3 106.2L580.5 107.1L580.8 107.9L581.0 108.6L581.3 109.3L581.5 109.9L581.7 110.4L582.0 110.8L582.2 111.1L582.5 111.2L582.7 111.1L583.0 110.9L583.2 110.6L583.4 110.2L583.7 109.6L583.9 108.9L584.2 108.2L584.4 107.4L584.7 106.6L584.9 105.8L585.1 105.0L585.4 104.2L585.6 103.5L585.9 102.9L586.1 102.4L586.3 102.0L586.6 101.8L586.8 101.7L587.1 101.8L587.3 102.0L587.6 102.3L587.8 102.8L588.0 103.3L588.3 104.0L588.5 104.7L588.8 105.5L589.0 106.4L589.3 107.2L589.5 108.0L589.7 108.7L590.0 109.4L590.2 110.0L590.5 110.5L590.7 110.9L591.0 111.1L591.2 111.2L591.4 111.1L591.7 110.9L591.9 110.6L592.2 110.1L592.4 109.5L592.6 108.8L592.9 108.1L593.1 107.3L593.4 106.5L593.6 105.6L593.9 104.8L594.1 104.1L594.3 103.4L594.6 102.8L594.8 102.4L595.1 102.0L595.3 101.8L595.6 101.7L595.8 101.8L596.0 102.0L596.3 102.4L596.5 102.8L596.8 103.4L597.0 104.1L597.2 104.8L597.5 105.6L597.7 106.5L598.0 107.3L598.2 108.1L598.5 108.8L598.7 109.5L598.9 110.1L599.2 110.6L599.4 110.9L599.7 111.1L599.9 111.2L600.2 111.1L600.4 110.9L600.6 110.5L600.9 110.0L601.1 109.4L601.4 108.7L601.6 108.0L601.9 107.2L602.1 106.4L602.3 105.5L602.6 104.7L602.8 104.0L603.1 103.3L603.3 102.8L603.5 102.3L603.8 102.0L604.0 101.8L604.3 101.7L604.5 101.8L604.8 102.0L605.0 102.4L605.2 102.9L605.5 103.5L605.7 104.2L606.0 105.0L606.2 105.8L606.5 106.6L606.7 107.4L606.9 108.2L607.2 108.9L607.4 109.6L607.7 110.2L607.9 110.6L608.2 110.9L608.4 111.1L608.6 111.2L608.9 111.1L609.1 110.8L609.4 110.4L609.6 109.9L609.8 109.3L610.1 108.6L610.3 107.9L610.6 107.1L610.8 106.2L611.1 105.4L611.3 104.6L611.5 103.9L611.8 103.2L612.0 102.7L612.3 102.2L612.5 101.9L612.8 101.8L613.0 101.7L613.2 101.8L613.5 102.1L613.7 102.5L614.0 103.0L614.2 103.6L614.4 104.3L614.7 105.1L614.9 105.9L615.2 106.7L615.4 107.5L615.7 108.3L615.9 109.0L616.1 109.7L616.4 110.2L616.6 110.7L616.9 111.0L617.1 111.1L617.4 111.2L617.6 111.0L617.8 110.8L618.1 110.4L618.3 109.9L618.6 109.2L618.8 108.5L619.1 107.8L619.3 106.9L619.5 106.1L619.8 105.3L620.0 104.5L620.3 103.8L620.5 103.2L620.7 102.6L621.0 102.2L621.2 101.9L621.5 101.7L621.7 101.7L622.0 101.9L622.2 102.1L622.4 102.5L622.7 103.1L622.9 103.7L623.2 104.4L623.4 105.2L623.7 106.0L623.9 106.8L624.1 107.6L624.4 108.4L624.6 109.1L624.9 109.8L625.1 110.3L625.4 110.7L625.6 111.0L625.8 111.2L626.1 111.2L626.3 111.0L626.6 110.7L626.8 110.3L627.0 109.8L627.3 109.1L627.5 108.4L627.8 107.6L628.0 106.8L628.3 106.0L628.5 105.2L628.7 104.4L629.0 103.7L629.2 103.1L629.5 102.5L629.7 102.1L630.0 101.9L630.2 101.7L630.4 101.7L630.7 101.9L630.9 102.2L631.2 102.6L631.4 103.2L631.7 103.8L631.9 104.5L632.1 105.3L632.4 106.1L632.6 106.9L632.9 107.8L633.1 108.5L633.3 109.2L633.6 109.9L633.8 110.4L634.1 110.8L634.3 111.0L634.6 111.2L634.8 111.1L635.0 111.0L635.3 110.7L635.5 110.2L635.8 109.7L636.0 109.0L636.3 108.3L636.5 107.5L636.7 106.7L637.0 105.9L637.2 105.1L637.5 104.3L637.7 103.6L637.9 103.0L638.2 102.5L638.4 102.1L638.7 101.8L638.9 101.7L639.2 101.8L639.4 101.9L639.6 102.2L639.9 102.7L640.1 103.2L640.4 103.9L640.6 104.6L640.9 105.4L641.1 106.2L641.3 107.1L641.6 107.9L641.8 108.6L642.1 109.3L642.3 109.9L642.6 110.4L642.8 110.8L643.0 111.1L643.3 111.2L643.5 111.1L643.8 110.9L644.0 110.6L644.2 110.2L644.5 109.6L644.7 108.9L645.0 108.2L645.2 107.4L645.5 106.6L645.7 105.8L645.9 105.0L646.2 104.2L646.4 103.5L646.7 102.9L646.9 102.4L647.2 102.0L647.4 101.8L647.6 101.7L647.9 101.8L648.1 102.0L648.4 102.3L648.6 102.8L648.9 103.3L649.1 104.0L649.3 104.7L649.6 105.5L649.8 106.4L650.1 107.2L650.3 108.0L650.5 108.7L650.8 109.4L651.0 110.0L651.3 110.5L651.5 110.9L651.8 111.1L652.0 111.2L652.2 111.1L652.5 110.9L652.7 110.6L653.0 110.1L653.2 109.5L653.5 108.8L653.7 108.1L653.9 107.3L654.2 106.5L654.4 105.6L654.7 104.8L654.9 104.1L655.1 103.4L655.4 102.8L655.6 102.4L655.9 102.0L656.1 101.8L656.4 101.7L656.6 101.8L656.8 102.0L657.1 102.4L657.3 102.8L657.6 103.4L657.8 104.1L658.1 104.8L658.3 105.6L658.5 106.5L658.8 107.3L659.0 108.1L659.3 108.8L659.5 109.5L659.8 110.1L660.0 110.6L660.2 110.9L660.5 111.1L660.7 111.2L661.0 111.1L661.2 110.9L661.4 110.5L661.7 110.0L661.9 109.4L662.2 108.7L662.4 108.0L662.7 107.2L662.9 106.4L663.1 105.5L663.4 104.7L663.6 104.0L663.9 103.3L664.1 102.8L664.4 102.3L664.6 102.0L664.8 101.8L665.1 101.7L665.3 101.8L665.6 102.0L665.8 102.4L666.1 102.9L666.3 103.5L666.5 104.2L666.8 105.0L667.0 105.8L667.3 106.6L667.5 107.4L667.7 108.2L668.0 108.9L668.2 109.6L668.5 110.2L668.7 110.6L669.0 110.9L669.2 111.1L669.4 111.2L669.7 111.1L669.9 110.8L670.2 110.4L670.4 109.9L670.7 109.3L670.9 108.6L671.1 107.9L671.4 107.1L671.6 106.2L671.9 105.4L672.1 104.6L672.3 103.9L672.6 103.2L672.8 102.7L673.1 102.2L673.3 101.9L673.6 101.8L673.8 101.7L674.0 101.8L674.3 102.1L674.5 102.5L674.8 103.0L675.0 103.6L675.3 104.3L675.5 105.1L675.7 105.9L676.0 106.7L676.2 107.5L676.5 108.3L676.7 109.0L677.0 109.7L677.2 110.2L677.4 110.7L677.7 111.0L677.9 111.1L678.2 111.2L678.4 111.0L678.6 110.8L678.9 110.4L679.1 109.9L679.4 109.2L679.6 108.5L679.9 107.8L680.1 106.9L680.3 106.1L680.6 105.3L680.8 104.5L681.1 103.8L681.3 103.2L681.6 102.6L681.8 102.2L682.0 101.9L682.3 101.7L682.5 101.7L682.8 101.9L683.0 102.1L683.3 102.5L683.5 103.1L683.7 103.7L684.0 104.4L684.2 105.2L684.5 106.0L684.7 106.8L684.9 107.6L685.2 108.4L685.4 109.1L685.7 109.8L685.9 110.3L686.2 110.7L686.4 111.0L686.6 111.2L686.9 111.2L687.1 111.0L687.4 110.7L687.6 110.3L687.9 109.8L688.1 109.1L688.3 108.4L688.6 107.6L688.8 106.8L689.1 106.0L689.3 105.2L689.5 104.4L689.8 103.7L690.0 103.1L690.3 102.5L690.5 102.1L690.8 101.9L691.0 101.7L691.2 101.7L691.5 101.9L691.7 102.2L692.0 102.6L692.2 103.2L692.5 103.8L692.7 104.5L692.9 105.3L693.2 106.1L693.4 106.9L693.7 107.8L693.9 108.5L694.2 109.2L694.4 109.9L694.6 110.4L694.9 110.8L695.1 111.0L695.4 111.2L695.6 111.1L695.8 111.0L696.1 110.7L696.3 110.2L696.6 109.7L696.8 109.0L697.1 108.3L697.3 107.5L697.5 106.7L697.8 105.9L698.0 105.1L698.3 104.3L698.5 103.6L698.8 103.0L699.0 102.5L699.2 102.1L699.5 101.8L699.7 101.7L700.0 101.8L700.2 101.9L700.5 102.2L700.7 102.7L700.9 103.2L701.2 103.9L701.4 104.6L701.7 105.4L701.9 106.2L702.1 107.1L702.4 107.9L702.6 108.6L702.9 109.3L703.1 109.9L703.4 110.4L703.6 110.8L703.8 111.1L704.1 111.2L704.3 111.1L704.6 110.9L704.8 110.6L705.1 110.2L705.3 109.6L705.5 108.9L705.8 108.2L706.0 107.4L706.3 106.6L706.5 105.8L706.7 105.0L707.0 104.2L707.2 103.5L707.5 102.9L707.7 102.4L708.0 102.0L708.2 101.8L708.4 101.7L708.7 101.8L708.9 102.0L709.2 102.3L709.4 102.8L709.7 103.3L709.9 104.0L710.1 104.7L710.4 105.5L710.6 106.4L710.9 107.2L711.1 108.0L711.4 108.7L711.6 109.4L711.8 110.0L712.1 110.5L712.3 110.9L712.6 111.1L712.8 111.2L713.0 111.1L713.3 110.9L713.5 110.6L713.8 110.1L714.0 109.5L714.3 108.8L714.5 108.1L714.7 107.3L715.0 106.5L715.2 105.6L715.5 104.8L715.7 104.1L716.0 103.4L716.2 102.8L716.4 102.4L716.7 102.0L716.9 101.8L717.2 101.7L717.4 101.8L717.7 102.0L717.9 102.4L718.1 102.8L718.4 103.4L718.6 104.1L718.9 104.8L719.1 105.6L719.3 106.5L719.6 107.3L719.8 108.1L720.1 108.8L720.3 109.5L720.6 110.1L720.8 110.6L721.0 110.9L721.3 111.1L721.5 111.2L721.8 111.1L722.0 110.9L722.3 110.5L722.5 110.0L722.7 109.4L723.0 108.7L723.2 108.0L723.5 107.2L723.7 106.4L723.9 105.5L724.2 104.7L724.4 104.0L724.7 103.3L724.9 102.8L725.2 102.3L725.4 102.0L725.6 101.8L725.9 101.7L726.1 101.8L726.4 102.0L726.6 102.4L726.9 102.9L727.1 103.5L727.3 104.2L727.6 105.0L727.8 105.8L728.1 106.6L728.3 107.4L728.6 108.2L728.8 108.9L729.0 109.6L729.3 110.2L729.5 110.6L729.8 110.9L730.0 111.1L730.2 111.2L730.5 111.1L730.7 110.8L731.0 110.4L731.2 109.9L731.5 109.3L731.7 108.6L731.9 107.9L732.2 107.1L732.4 106.2L732.7 105.4L732.9 104.6" stroke="#000" stroke-width="1.9"/><path d="M562.4 41.5L564.5 130.9L565.4 130.9L567.9 127.0L571.8 119.2L572.6 113.4L573.6 106.3L573.9 106.3L574.1 106.3L574.3 106.6L574.6 107.0L574.8 107.6L575.1 108.3L575.3 109.1L575.6 110.0L575.8 111.0L576.0 111.9L576.3 112.9L576.5 113.8L576.8 114.7L577.0 115.5L577.2 116.2L577.5 116.7L577.7 117.1L578.0 117.3L578.2 117.4L578.5 117.3L578.7 117.0L578.9 116.6L579.2 116.0L579.4 115.3L579.7 114.5L579.9 113.6L580.2 112.6L580.4 111.6L580.6 110.7L580.9 109.7L581.1 108.9L581.4 108.1L581.6 107.4L581.8 106.9L582.1 106.5L582.3 106.3L582.6 106.3L582.8 106.4L583.1 106.7L583.3 107.1L583.5 107.7L583.8 108.4L584.0 109.2L584.3 110.1L584.5 111.1L584.8 112.1L585.0 113.0L585.2 114.0L585.5 114.8L585.7 115.6L586.0 116.2L586.2 116.8L586.5 117.1L586.7 117.3L586.9 117.4L587.2 117.2L587.4 116.9L587.7 116.5L587.9 115.9L588.1 115.2L588.4 114.3L588.6 113.4L588.9 112.5L589.1 111.5L589.4 110.5L589.6 109.6L589.8 108.8L590.1 108.0L590.3 107.3L590.6 106.8L590.8 106.5L591.1 106.3L591.3 106.3L591.5 106.4L591.8 106.7L592.0 107.2L592.3 107.8L592.5 108.5L592.8 109.4L593.0 110.3L593.2 111.2L593.5 112.2L593.7 113.2L594.0 114.1L594.2 114.9L594.4 115.7L594.7 116.3L594.9 116.8L595.2 117.2L595.4 117.4L595.7 117.4L595.9 117.2L596.1 116.9L596.4 116.4L596.6 115.8L596.9 115.1L597.1 114.2L597.4 113.3L597.6 112.3L597.8 111.4L598.1 110.4L598.3 109.5L598.6 108.6L598.8 107.9L599.0 107.3L599.3 106.8L599.5 106.4L599.8 106.3L600.0 106.3L600.3 106.4L600.5 106.8L600.7 107.3L601.0 107.9L601.2 108.6L601.5 109.5L601.7 110.4L602.0 111.4L602.2 112.3L602.4 113.3L602.7 114.2L602.9 115.1L603.2 115.8L603.4 116.4L603.7 116.9L603.9 117.2L604.1 117.4L604.4 117.4L604.6 117.2L604.9 116.8L605.1 116.3L605.3 115.7L605.6 114.9L605.8 114.1L606.1 113.2L606.3 112.2L606.6 111.2L606.8 110.3L607.0 109.4L607.3 108.5L607.5 107.8L607.8 107.2L608.0 106.7L608.3 106.4L608.5 106.3L608.7 106.3L609.0 106.5L609.2 106.8L609.5 107.3L609.7 108.0L610.0 108.8L610.2 109.6L610.4 110.5L610.7 111.5L610.9 112.5L611.2 113.4L611.4 114.3L611.6 115.2L611.9 115.9L612.1 116.5L612.4 116.9L612.6 117.2L612.9 117.4L613.1 117.3L613.3 117.1L613.6 116.8L613.8 116.2L614.1 115.6L614.3 114.8L614.6 114.0L614.8 113.0L615.0 112.1L615.3 111.1L615.5 110.1L615.8 109.2L616.0 108.4L616.2 107.7L616.5 107.1L616.7 106.7L617.0 106.4L617.2 106.3L617.5 106.3L617.7 106.5L617.9 106.9L618.2 107.4L618.4 108.1L618.7 108.9L618.9 109.7L619.2 110.7L619.4 111.6L619.6 112.6L619.9 113.6L620.1 114.5L620.4 115.3L620.6 116.0L620.9 116.6L621.1 117.0L621.3 117.3L621.6 117.4L621.8 117.3L622.1 117.1L622.3 116.7L622.5 116.2L622.8 115.5L623.0 114.7L623.3 113.8L623.5 112.9L623.8 111.9L624.0 111.0L624.2 110.0L624.5 109.1L624.7 108.3L625.0 107.6L625.2 107.0L625.5 106.6L625.7 106.3L625.9 106.3L626.2 106.3L626.4 106.6L626.7 107.0L626.9 107.5L627.2 108.2L627.4 109.0L627.6 109.9L627.9 110.8L628.1 111.8L628.4 112.8L628.6 113.7L628.8 114.6L629.1 115.4L629.3 116.1L629.6 116.6L629.8 117.0L630.1 117.3L630.3 117.4L630.5 117.3L630.8 117.0L631.0 116.6L631.3 116.1L631.5 115.4L631.8 114.6L632.0 113.7L632.2 112.8L632.5 111.8L632.7 110.8L633.0 109.9L633.2 109.0L633.4 108.2L633.7 107.5L633.9 107.0L634.2 106.6L634.4 106.3L634.7 106.3L634.9 106.3L635.1 106.6L635.4 107.0L635.6 107.6L635.9 108.3L636.1 109.1L636.4 110.0L636.6 111.0L636.8 111.9L637.1 112.9L637.3 113.8L637.6 114.7L637.8 115.5L638.1 116.2L638.3 116.7L638.5 117.1L638.8 117.3L639.0 117.4L639.3 117.3L639.5 117.0L639.7 116.6L640.0 116.0L640.2 115.3L640.5 114.5L640.7 113.6L641.0 112.6L641.2 111.6L641.4 110.7L641.7 109.7L641.9 108.9L642.2 108.1L642.4 107.4L642.7 106.9L642.9 106.5L643.1 106.3L643.4 106.3L643.6 106.4L643.9 106.7L644.1 107.1L644.4 107.7L644.6 108.4L644.8 109.2L645.1 110.1L645.3 111.1L645.6 112.1L645.8 113.0L646.0 114.0L646.3 114.8L646.5 115.6L646.8 116.2L647.0 116.8L647.3 117.1L647.5 117.3L647.7 117.4L648.0 117.2L648.2 116.9L648.5 116.5L648.7 115.9L649.0 115.2L649.2 114.3L649.4 113.4L649.7 112.5L649.9 111.5L650.2 110.5L650.4 109.6L650.6 108.8L650.9 108.0L651.1 107.3L651.4 106.8L651.6 106.5L651.9 106.3L652.1 106.3L652.3 106.4L652.6 106.7L652.8 107.2L653.1 107.8L653.3 108.5L653.6 109.4L653.8 110.3L654.0 111.2L654.3 112.2L654.5 113.2L654.8 114.1L655.0 114.9L655.3 115.7L655.5 116.3L655.7 116.8L656.0 117.2L656.2 117.4L656.5 117.4L656.7 117.2L656.9 116.9L657.2 116.4L657.4 115.8L657.7 115.1L657.9 114.2L658.2 113.3L658.4 112.3L658.6 111.4L658.9 110.4L659.1 109.5L659.4 108.6L659.6 107.9L659.9 107.3L660.1 106.8L660.3 106.4L660.6 106.3L660.8 106.3L661.1 106.4L661.3 106.8L661.6 107.3L661.8 107.9L662.0 108.6L662.3 109.5L662.5 110.4L662.8 111.4L663.0 112.3L663.2 113.3L663.5 114.2L663.7 115.1L664.0 115.8L664.2 116.4L664.5 116.9L664.7 117.2L664.9 117.4L665.2 117.4L665.4 117.2L665.7 116.8L665.9 116.3L666.2 115.7L666.4 114.9L666.6 114.1L666.9 113.2L667.1 112.2L667.4 111.2L667.6 110.3L667.8 109.4L668.1 108.5L668.3 107.8L668.6 107.2L668.8 106.7L669.1 106.4L669.3 106.3L669.5 106.3L669.8 106.5L670.0 106.8L670.3 107.3L670.5 108.0L670.8 108.8L671.0 109.6L671.2 110.5L671.5 111.5L671.7 112.5L672.0 113.4L672.2 114.3L672.5 115.2L672.7 115.9L672.9 116.5L673.2 116.9L673.4 117.2L673.7 117.4L673.9 117.3L674.1 117.1L674.4 116.8L674.6 116.2L674.9 115.6L675.1 114.8L675.4 114.0L675.6 113.0L675.8 112.1L676.1 111.1L676.3 110.1L676.6 109.2L676.8 108.4L677.1 107.7L677.3 107.1L677.5 106.7L677.8 106.4L678.0 106.3L678.3 106.3L678.5 106.5L678.8 106.9L679.0 107.4L679.2 108.1L679.5 108.9L679.7 109.7L680.0 110.7L680.2 111.6L680.4 112.6L680.7 113.6L680.9 114.5L681.2 115.3L681.4 116.0L681.7 116.6L681.9 117.0L682.1 117.3L682.4 117.4L682.6 117.3L682.9 117.1L683.1 116.7L683.4 116.2L683.6 115.5L683.8 114.7L684.1 113.8L684.3 112.9L684.6 111.9L684.8 111.0L685.0 110.0L685.3 109.1L685.5 108.3L685.8 107.6L686.0 107.0L686.3 106.6L686.5 106.3L686.7 106.3L687.0 106.3L687.2 106.6L687.5 107.0L687.7 107.5L688.0 108.2L688.2 109.0L688.4 109.9L688.7 110.8L688.9 111.8L689.2 112.8L689.4 113.7L689.7 114.6L689.9 115.4L690.1 116.1L690.4 116.6L690.6 117.0L690.9 117.3L691.1 117.4L691.3 117.3L691.6 117.0L691.8 116.6L692.1 116.1L692.3 115.4L692.6 114.6L692.8 113.7L693.0 112.8L693.3 111.8L693.5 110.8L693.8 109.9L694.0 109.0L694.3 108.2L694.5 107.5L694.7 107.0L695.0 106.6L695.2 106.3L695.5 106.3L695.7 106.3L696.0 106.6L696.2 107.0L696.4 107.6L696.7 108.3L696.9 109.1L697.2 110.0L697.4 111.0L697.6 111.9L697.9 112.9L698.1 113.8L698.4 114.7L698.6 115.5L698.9 116.2L699.1 116.7L699.3 117.1L699.6 117.3L699.8 117.4L700.1 117.3L700.3 117.0L700.6 116.6L700.8 116.0L701.0 115.3L701.3 114.5L701.5 113.6L701.8 112.6L702.0 111.6L702.3 110.7L702.5 109.7L702.7 108.9L703.0 108.1L703.2 107.4L703.5 106.9L703.7 106.5L703.9 106.3L704.2 106.3L704.4 106.4L704.7 106.7L704.9 107.1L705.2 107.7L705.4 108.4L705.6 109.2L705.9 110.1L706.1 111.1L706.4 112.1L706.6 113.0L706.9 114.0L707.1 114.8L707.3 115.6L707.6 116.2L707.8 116.8L708.1 117.1L708.3 117.3L708.5 117.4L708.8 117.2L709.0 116.9L709.3 116.5L709.5 115.9L709.8 115.2L710.0 114.3L710.2 113.4L710.5 112.5L710.7 111.5L711.0 110.5L711.2 109.6L711.5 108.8L711.7 108.0L711.9 107.3L712.2 106.8L712.4 106.5L712.7 106.3L712.9 106.3L713.2 106.4L713.4 106.7L713.6 107.2L713.9 107.8L714.1 108.5L714.4 109.4L714.6 110.3L714.8 111.2L715.1 112.2L715.3 113.2L715.6 114.1L715.8 114.9L716.1 115.7L716.3 116.3L716.5 116.8L716.8 117.2L717.0 117.4L717.3 117.4L717.5 117.2L717.8 116.9L718.0 116.4L718.2 115.8L718.5 115.1L718.7 114.2L719.0 113.3L719.2 112.3L719.5 111.4L719.7 110.4L719.9 109.5L720.2 108.6L720.4 107.9L720.7 107.3L720.9 106.8L721.1 106.4L721.4 106.3L721.6 106.3L721.9 106.4L722.1 106.8L722.4 107.3L722.6 107.9L722.8 108.6L723.1 109.5L723.3 110.4L723.6 111.4L723.8 112.3L724.1 113.3L724.3 114.2L724.5 115.1L724.8 115.8L725.0 116.4L725.3 116.9L725.5 117.2L725.7 117.4L726.0 117.4L726.2 117.2L726.5 116.8L726.7 116.3L727.0 115.7L727.2 114.9L727.4 114.1L727.7 113.2L727.9 112.2L728.2 111.2L728.4 110.3L728.7 109.4L728.9 108.5L729.1 107.8L729.4 107.2L729.6 106.7L729.9 106.4L730.1 106.3L730.4 106.3L730.6 106.5L730.8 106.8L731.1 107.3L731.3 108.0L731.6 108.8L731.8 109.6L732.0 110.5L732.3 111.5L732.5 112.5L732.8 113.4L733.0 114.3" stroke="#f00" stroke-dasharray="5 5"/><path d="M562.5 41.5L563.4 132.2L563.9 128.9L564.8 151.6L566.0 138.6L567.7 125.7L570.8 114.0L571.9 110.1L572.6 108.3L572.8 108.5L573.1 108.7L573.3 108.7L573.5 108.7L573.8 108.6L574.0 108.4L574.3 108.1L574.5 107.8L574.8 107.5L575.0 107.0L575.2 106.6L575.5 106.1L575.7 105.7L576.0 105.2L576.2 104.8L576.5 104.4L576.7 104.1L576.9 103.8L577.2 103.6L577.4 103.5L577.7 103.4L577.9 103.4L578.1 103.5L578.4 103.7L578.6 104.0L578.9 104.3L579.1 104.7L579.4 105.1L579.6 105.5L579.8 106.0L580.1 106.5L580.3 106.9L580.6 107.3L580.8 107.7L581.1 108.1L581.3 108.3L581.5 108.5L581.8 108.7L582.0 108.7L582.3 108.7L582.5 108.6L582.7 108.4L583.0 108.1L583.2 107.8L583.5 107.4L583.7 107.0L584.0 106.5L584.2 106.1L584.4 105.6L584.7 105.2L584.9 104.7L585.2 104.4L585.4 104.0L585.7 103.8L585.9 103.6L586.1 103.4L586.4 103.4L586.6 103.4L586.9 103.6L587.1 103.8L587.4 104.0L587.6 104.4L587.8 104.7L588.1 105.2L588.3 105.6L588.6 106.1L588.8 106.5L589.0 107.0L589.3 107.4L589.5 107.8L589.8 108.1L590.0 108.4L590.3 108.6L590.5 108.7L590.7 108.7L591.0 108.7L591.2 108.5L591.5 108.3L591.7 108.1L592.0 107.7L592.2 107.3L592.4 106.9L592.7 106.5L592.9 106.0L593.2 105.5L593.4 105.1L593.7 104.7L593.9 104.3L594.1 104.0L594.4 103.7L594.6 103.5L594.9 103.4L595.1 103.4L595.3 103.5L595.6 103.6L595.8 103.8L596.1 104.1L596.3 104.4L596.6 104.8L596.8 105.2L597.0 105.7L597.3 106.1L597.5 106.6L597.8 107.0L598.0 107.5L598.3 107.8L598.5 108.1L598.7 108.4L599.0 108.6L599.2 108.7L599.5 108.7L599.7 108.7L599.9 108.5L600.2 108.3L600.4 108.0L600.7 107.7L600.9 107.3L601.2 106.9L601.4 106.4L601.6 105.9L601.9 105.5L602.1 105.0L602.4 104.6L602.6 104.3L602.9 103.9L603.1 103.7L603.3 103.5L603.6 103.4L603.8 103.4L604.1 103.5L604.3 103.6L604.6 103.8L604.8 104.1L605.0 104.5L605.3 104.9L605.5 105.3L605.8 105.7L606.0 106.2L606.2 106.7L606.5 107.1L606.7 107.5L607.0 107.9L607.2 108.2L607.5 108.4L607.7 108.6L607.9 108.7L608.2 108.7L608.4 108.6L608.7 108.5L608.9 108.3L609.2 108.0L609.4 107.6L609.6 107.2L609.9 106.8L610.1 106.3L610.4 105.9L610.6 105.4L610.9 105.0L611.1 104.6L611.3 104.2L611.6 103.9L611.8 103.7L612.1 103.5L612.3 103.4L612.5 103.4L612.8 103.5L613.0 103.6L613.3 103.9L613.5 104.2L613.8 104.5L614.0 104.9L614.2 105.3L614.5 105.8L614.7 106.3L615.0 106.7L615.2 107.2L615.5 107.6L615.7 107.9L615.9 108.2L616.2 108.5L616.4 108.6L616.7 108.7L616.9 108.7L617.1 108.6L617.4 108.5L617.6 108.2L617.9 107.9L618.1 107.6L618.4 107.2L618.6 106.7L618.8 106.3L619.1 105.8L619.3 105.3L619.6 104.9L619.8 104.5L620.1 104.2L620.3 103.9L620.5 103.6L620.8 103.5L621.0 103.4L621.3 103.4L621.5 103.5L621.8 103.7L622.0 103.9L622.2 104.2L622.5 104.6L622.7 105.0L623.0 105.4L623.2 105.9L623.4 106.3L623.7 106.8L623.9 107.2L624.2 107.6L624.4 108.0L624.7 108.3L624.9 108.5L625.1 108.6L625.4 108.7L625.6 108.7L625.9 108.6L626.1 108.4L626.4 108.2L626.6 107.9L626.8 107.5L627.1 107.1L627.3 106.7L627.6 106.2L627.8 105.7L628.1 105.3L628.3 104.9L628.5 104.5L628.8 104.1L629.0 103.8L629.3 103.6L629.5 103.5L629.7 103.4L630.0 103.4L630.2 103.5L630.5 103.7L630.7 103.9L631.0 104.3L631.2 104.6L631.4 105.0L631.7 105.5L631.9 105.9L632.2 106.4L632.4 106.9L632.7 107.3L632.9 107.7L633.1 108.0L633.4 108.3L633.6 108.5L633.9 108.7L634.1 108.7L634.3 108.7L634.6 108.6L634.8 108.4L635.1 108.1L635.3 107.8L635.6 107.5L635.8 107.0L636.0 106.6L636.3 106.1L636.5 105.7L636.8 105.2L637.0 104.8L637.3 104.4L637.5 104.1L637.7 103.8L638.0 103.6L638.2 103.5L638.5 103.4L638.7 103.4L639.0 103.5L639.2 103.7L639.4 104.0L639.7 104.3L639.9 104.7L640.2 105.1L640.4 105.5L640.6 106.0L640.9 106.5L641.1 106.9L641.4 107.3L641.6 107.7L641.9 108.1L642.1 108.3L642.3 108.5L642.6 108.7L642.8 108.7L643.1 108.7L643.3 108.6L643.6 108.4L643.8 108.1L644.0 107.8L644.3 107.4L644.5 107.0L644.8 106.5L645.0 106.1L645.3 105.6L645.5 105.2L645.7 104.7L646.0 104.4L646.2 104.0L646.5 103.8L646.7 103.6L646.9 103.4L647.2 103.4L647.4 103.4L647.7 103.6L647.9 103.8L648.2 104.0L648.4 104.4L648.6 104.7L648.9 105.2L649.1 105.6L649.4 106.1L649.6 106.5L649.9 107.0L650.1 107.4L650.3 107.8L650.6 108.1L650.8 108.4L651.1 108.6L651.3 108.7L651.5 108.7L651.8 108.7L652.0 108.5L652.3 108.3L652.5 108.1L652.8 107.7L653.0 107.3L653.2 106.9L653.5 106.5L653.7 106.0L654.0 105.5L654.2 105.1L654.5 104.7L654.7 104.3L654.9 104.0L655.2 103.7L655.4 103.5L655.7 103.4L655.9 103.4L656.2 103.5L656.4 103.6L656.6 103.8L656.9 104.1L657.1 104.4L657.4 104.8L657.6 105.2L657.8 105.7L658.1 106.1L658.3 106.6L658.6 107.0L658.8 107.5L659.1 107.8L659.3 108.1L659.5 108.4L659.8 108.6L660.0 108.7L660.3 108.7L660.5 108.7L660.8 108.5L661.0 108.3L661.2 108.0L661.5 107.7L661.7 107.3L662.0 106.9L662.2 106.4L662.5 105.9L662.7 105.5L662.9 105.0L663.2 104.6L663.4 104.3L663.7 103.9L663.9 103.7L664.1 103.5L664.4 103.4L664.6 103.4L664.9 103.5L665.1 103.6L665.4 103.8L665.6 104.1L665.8 104.5L666.1 104.9L666.3 105.3L666.6 105.7L666.8 106.2L667.1 106.7L667.3 107.1L667.5 107.5L667.8 107.9L668.0 108.2L668.3 108.4L668.5 108.6L668.7 108.7L669.0 108.7L669.2 108.6L669.5 108.5L669.7 108.3L670.0 108.0L670.2 107.6L670.4 107.2L670.7 106.8L670.9 106.3L671.2 105.9L671.4 105.4L671.7 105.0L671.9 104.6L672.1 104.2L672.4 103.9L672.6 103.7L672.9 103.5L673.1 103.4L673.4 103.4L673.6 103.5L673.8 103.6L674.1 103.9L674.3 104.2L674.6 104.5L674.8 104.9L675.0 105.3L675.3 105.8L675.5 106.3L675.8 106.7L676.0 107.2L676.3 107.6L676.5 107.9L676.7 108.2L677.0 108.5L677.2 108.6L677.5 108.7L677.7 108.7L678.0 108.6L678.2 108.5L678.4 108.2L678.7 107.9L678.9 107.6L679.2 107.2L679.4 106.7L679.7 106.3L679.9 105.8L680.1 105.3L680.4 104.9L680.6 104.5L680.9 104.2L681.1 103.9L681.3 103.6L681.6 103.5L681.8 103.4L682.1 103.4L682.3 103.5L682.6 103.7L682.8 103.9L683.0 104.2L683.3 104.6L683.5 105.0L683.8 105.4L684.0 105.9L684.3 106.3L684.5 106.8L684.7 107.2L685.0 107.6L685.2 108.0L685.5 108.3L685.7 108.5L685.9 108.6L686.2 108.7L686.4 108.7L686.7 108.6L686.9 108.4L687.2 108.2L687.4 107.9L687.6 107.5L687.9 107.1L688.1 106.7L688.4 106.2L688.6 105.7L688.9 105.3L689.1 104.9L689.3 104.5L689.6 104.1L689.8 103.8L690.1 103.6L690.3 103.5L690.6 103.4L690.8 103.4L691.0 103.5L691.3 103.7L691.5 103.9L691.8 104.3L692.0 104.6L692.2 105.0L692.5 105.5L692.7 105.9L693.0 106.4L693.2 106.9L693.5 107.3L693.7 107.7L693.9 108.0L694.2 108.3L694.4 108.5L694.7 108.7L694.9 108.7L695.2 108.7L695.4 108.6L695.6 108.4L695.9 108.1L696.1 107.8L696.4 107.5L696.6 107.0L696.9 106.6L697.1 106.1L697.3 105.7L697.6 105.2L697.8 104.8L698.1 104.4L698.3 104.1L698.5 103.8L698.8 103.6L699.0 103.5L699.3 103.4L699.5 103.4L699.8 103.5L700.0 103.7L700.2 104.0L700.5 104.3L700.7 104.7L701.0 105.1L701.2 105.5L701.5 106.0L701.7 106.5L701.9 106.9L702.2 107.3L702.4 107.7L702.7 108.1L702.9 108.3L703.1 108.5L703.4 108.7L703.6 108.7L703.9 108.7L704.1 108.6L704.4 108.4L704.6 108.1L704.8 107.8L705.1 107.4L705.3 107.0L705.6 106.5L705.8 106.1L706.1 105.6L706.3 105.2L706.5 104.7L706.8 104.4L707.0 104.0L707.3 103.8L707.5 103.6L707.8 103.4L708.0 103.4L708.2 103.4L708.5 103.6L708.7 103.8L709.0 104.0L709.2 104.4L709.4 104.7L709.7 105.2L709.9 105.6L710.2 106.1L710.4 106.5L710.7 107.0L710.9 107.4L711.1 107.8L711.4 108.1L711.6 108.4L711.9 108.6L712.1 108.7L712.4 108.7L712.6 108.7L712.8 108.5L713.1 108.3L713.3 108.1L713.6 107.7L713.8 107.3L714.1 106.9L714.3 106.5L714.5 106.0L714.8 105.5L715.0 105.1L715.3 104.7L715.5 104.3L715.7 104.0L716.0 103.7L716.2 103.5L716.5 103.4L716.7 103.4L717.0 103.5L717.2 103.6L717.4 103.8L717.7 104.1L717.9 104.4L718.2 104.8L718.4 105.2L718.7 105.7L718.9 106.1L719.1 106.6L719.4 107.0L719.6 107.5L719.9 107.8L720.1 108.1L720.4 108.4L720.6 108.6L720.8 108.7L721.1 108.7L721.3 108.7L721.6 108.5L721.8 108.3L722.0 108.0L722.3 107.7L722.5 107.3L722.8 106.9L723.0 106.4L723.3 105.9L723.5 105.5L723.7 105.0L724.0 104.6L724.2 104.3L724.5 103.9L724.7 103.7L725.0 103.5L725.2 103.4L725.4 103.4L725.7 103.5L725.9 103.6L726.2 103.8L726.4 104.1L726.6 104.5L726.9 104.9L727.1 105.3L727.4 105.7L727.6 106.2L727.9 106.7L728.1 107.1L728.3 107.5L728.6 107.9L728.8 108.2L729.1 108.4L729.3 108.6L729.6 108.7L729.8 108.7L730.0 108.6L730.3 108.5L730.5 108.3L730.8 108.0L731.0 107.6L731.3 107.2L731.5 106.8L731.7 106.3L732.0 105.9L732.2 105.4L732.5 105.0L732.7 104.6L732.9 104.2" stroke="#00f" stroke-dasharray="7 2 1.5 2"/></g><rect x="561.5" y="41.5" width="176.5" height="129.5" fill="none" stroke="#222" stroke-width="1.2"/><path d="M565.0 171.0v-2.8M582.3 171.0v-2.0M599.6 171.0v-2.8M616.9 171.0v-2.0M634.2 171.0v-2.8M651.5 171.0v-2.0M668.8 171.0v-2.8M686.1 171.0v-2.0M703.4 171.0v-2.8M720.7 171.0v-2.0M579.1 41.5v2.0M596.8 41.5v2.8M614.5 41.5v2.0M632.1 41.5v2.8M649.8 41.5v2.0M667.4 41.5v2.8M685.0 41.5v2.0M702.7 41.5v2.8M720.4 41.5v2.0M561.5 154.8h2.0M561.5 138.6h2.8M561.5 122.4h2.0M561.5 106.2h2.8M561.5 90.1h2.0M561.5 73.9h2.8M561.5 57.7h2.0M738.0 158.1h-2.5M738.0 145.1h-2.5M738.0 132.2h-2.5M738.0 119.2h-2.5M738.0 106.2h-2.5M738.0 93.3h-2.5M738.0 80.3h-2.5M738.0 67.4h-2.5M738.0 54.5h-2.5" stroke="#222" stroke-width="1" fill="none"/><text x="565.0" y="184.8" text-anchor="middle" style="font-family:'Liberation Serif',serif;font-size:14.5px" fill="#000">100</text><text x="599.6" y="184.8" text-anchor="middle" style="font-family:'Liberation Serif',serif;font-size:14.5px" fill="#000">150</text><text x="634.2" y="184.8" text-anchor="middle" style="font-family:'Liberation Serif',serif;font-size:14.5px" fill="#000">200</text><text x="668.8" y="184.8" text-anchor="middle" style="font-family:'Liberation Serif',serif;font-size:14.5px" fill="#000">250</text><text x="703.4" y="184.8" text-anchor="middle" style="font-family:'Liberation Serif',serif;font-size:14.5px" fill="#000">300</text><text x="738.0" y="184.8" text-anchor="middle" style="font-family:'Liberation Serif',serif;font-size:14.5px" fill="#000">350</text><text x="558.7" y="45.6" text-anchor="end" style="font-family:'Liberation Serif',serif;font-size:14.7px" fill="#000">100</text><text x="558.7" y="78.0" text-anchor="end" style="font-family:'Liberation Serif',serif;font-size:14.7px" fill="#000">50</text><text x="558.7" y="110.3" text-anchor="end" style="font-family:'Liberation Serif',serif;font-size:14.7px" fill="#000">0</text><text x="558.7" y="142.7" text-anchor="end" style="font-family:'Liberation Serif',serif;font-size:14.7px" fill="#000">-50</text><text x="558.7" y="175.1" text-anchor="end" style="font-family:'Liberation Serif',serif;font-size:14.7px" fill="#000">-100</text><rect x="689.6" y="47.3" width="44.69999999999993" height="40.2" fill="#fff" stroke="#888" stroke-width="1"/><path d="M694.2 55.3H714.9" stroke="#000" stroke-width="2"/><path d="M694.2 66.9H714.9" stroke="#f00" stroke-width="2" stroke-dasharray="5 7"/><path d="M694.2 78.1H714.9" stroke="#00f" stroke-width="2" stroke-dasharray="6 3.5 1.2 3.5"/><text x="717.9" y="58.3" style="font-family:'Liberation Serif',serif;font-size:9.3px;stroke:none" fill="#222">a3x</text><text x="717.9" y="69.9" style="font-family:'Liberation Serif',serif;font-size:9.3px;stroke:none" fill="#222">a3y</text><text x="717.9" y="81.1" style="font-family:'Liberation Serif',serif;font-size:9.3px;stroke:none" fill="#222">a3z</text></g>
<g><text x="766.0" y="17.5" style="font-family:'Liberation Sans',sans-serif;font-size:20.5px;stroke-width:0.35px" fill="#000">(d)</text><text transform="translate(778.8,118.1) rotate(-90)" text-anchor="middle" style="font-family:'Liberation Serif',serif;font-size:14.7px" fill="#000">Acceleration commands(m·s<tspan dy="-7.5" style="font-size:9.5px">-2</tspan><tspan dy="7.5">)</tspan></text><text x="861.2" y="202.5" style="font-family:'Liberation Serif',serif;font-size:14.3px" fill="#000">Flight time (s)</text><text x="812.2" y="234.0" style="font-family:'Liberation Serif',serif;font-size:17.9px" fill="#000">The forth sub-vehicle</text><text x="971.9" y="234.6" style="font-family:'Liberation Serif',serif;font-size:19px;font-style:italic" fill="#000">m</text><text x="984.9" y="239.6" style="font-family:'Liberation Serif',serif;font-size:14.2px" fill="#000">4</text><clipPath id="clip3"><rect x="815.5" y="41.0" width="174.0" height="131.2"/></clipPath><g clip-path="url(#clip3)" fill="none" stroke-width="1.8" stroke-linejoin="round"><path d="M815.9 41.0L817.8 119.7L818.4 119.1L820.3 109.2L821.8 103.0L822.5 102.0L822.8 102.1L823.0 102.3L823.2 102.6L823.5 103.1L823.7 103.6L824.0 104.3L824.2 105.1L824.4 105.9L824.7 106.7L824.9 107.5L825.2 108.4L825.4 109.1L825.6 109.8L825.9 110.4L826.1 110.9L826.3 111.3L826.6 111.5L826.8 111.6L827.1 111.5L827.3 111.3L827.5 111.0L827.8 110.5L828.0 109.9L828.3 109.2L828.5 108.5L828.7 107.7L829.0 106.8L829.2 106.0L829.5 105.2L829.7 104.4L829.9 103.7L830.2 103.1L830.4 102.7L830.6 102.3L830.9 102.1L831.1 102.0L831.4 102.1L831.6 102.3L831.8 102.7L832.1 103.1L832.3 103.7L832.6 104.4L832.8 105.2L833.0 106.0L833.3 106.8L833.5 107.7L833.8 108.5L834.0 109.2L834.2 109.9L834.5 110.5L834.7 111.0L834.9 111.3L835.2 111.5L835.4 111.6L835.7 111.5L835.9 111.3L836.1 110.9L836.4 110.4L836.6 109.8L836.9 109.1L837.1 108.4L837.3 107.5L837.6 106.7L837.8 105.9L838.1 105.1L838.3 104.3L838.5 103.6L838.8 103.1L839.0 102.6L839.2 102.3L839.5 102.1L839.7 102.0L840.0 102.1L840.2 102.3L840.4 102.7L840.7 103.2L840.9 103.8L841.2 104.5L841.4 105.3L841.6 106.1L841.9 106.9L842.1 107.8L842.4 108.6L842.6 109.3L842.8 110.0L843.1 110.6L843.3 111.0L843.5 111.4L843.8 111.5L844.0 111.6L844.3 111.5L844.5 111.2L844.7 110.8L845.0 110.3L845.2 109.7L845.5 109.0L845.7 108.2L845.9 107.4L846.2 106.6L846.4 105.8L846.6 105.0L846.9 104.2L847.1 103.6L847.4 103.0L847.6 102.5L847.8 102.2L848.1 102.0L848.3 102.0L848.6 102.1L848.8 102.4L849.0 102.8L849.3 103.3L849.5 103.9L849.8 104.6L850.0 105.4L850.2 106.2L850.5 107.1L850.7 107.9L850.9 108.7L851.2 109.4L851.4 110.1L851.7 110.6L851.9 111.1L852.1 111.4L852.4 111.6L852.6 111.6L852.9 111.5L853.1 111.2L853.3 110.8L853.6 110.3L853.8 109.6L854.1 108.9L854.3 108.1L854.5 107.3L854.8 106.5L855.0 105.6L855.2 104.8L855.5 104.1L855.7 103.5L856.0 102.9L856.2 102.5L856.4 102.2L856.7 102.0L856.9 102.0L857.2 102.2L857.4 102.4L857.6 102.8L857.9 103.4L858.1 104.0L858.4 104.7L858.6 105.5L858.8 106.3L859.1 107.2L859.3 108.0L859.5 108.8L859.8 109.5L860.0 110.2L860.3 110.7L860.5 111.1L860.7 111.4L861.0 111.6L861.2 111.6L861.5 111.4L861.7 111.1L861.9 110.7L862.2 110.2L862.4 109.5L862.7 108.8L862.9 108.0L863.1 107.2L863.4 106.3L863.6 105.5L863.8 104.7L864.1 104.0L864.3 103.4L864.6 102.8L864.8 102.4L865.0 102.2L865.3 102.0L865.5 102.0L865.8 102.2L866.0 102.5L866.2 102.9L866.5 103.5L866.7 104.1L866.9 104.8L867.2 105.6L867.4 106.5L867.7 107.3L867.9 108.1L868.1 108.9L868.4 109.6L868.6 110.3L868.9 110.8L869.1 111.2L869.3 111.5L869.6 111.6L869.8 111.6L870.1 111.4L870.3 111.1L870.5 110.6L870.8 110.1L871.0 109.4L871.2 108.7L871.5 107.9L871.7 107.1L872.0 106.2L872.2 105.4L872.4 104.6L872.7 103.9L872.9 103.3L873.2 102.8L873.4 102.4L873.6 102.1L873.9 102.0L874.1 102.0L874.4 102.2L874.6 102.5L874.8 103.0L875.1 103.6L875.3 104.2L875.5 105.0L875.8 105.8L876.0 106.6L876.3 107.4L876.5 108.2L876.7 109.0L877.0 109.7L877.2 110.3L877.5 110.8L877.7 111.2L877.9 111.5L878.2 111.6L878.4 111.5L878.7 111.4L878.9 111.0L879.1 110.6L879.4 110.0L879.6 109.3L879.8 108.6L880.1 107.8L880.3 106.9L880.6 106.1L880.8 105.3L881.0 104.5L881.3 103.8L881.5 103.2L881.8 102.7L882.0 102.3L882.2 102.1L882.5 102.0L882.7 102.1L883.0 102.3L883.2 102.6L883.4 103.1L883.7 103.6L883.9 104.3L884.1 105.1L884.4 105.9L884.6 106.7L884.9 107.5L885.1 108.4L885.3 109.1L885.6 109.8L885.8 110.4L886.1 110.9L886.3 111.3L886.5 111.5L886.8 111.6L887.0 111.5L887.2 111.3L887.5 111.0L887.7 110.5L888.0 109.9L888.2 109.2L888.4 108.5L888.7 107.7L888.9 106.8L889.2 106.0L889.4 105.2L889.6 104.4L889.9 103.7L890.1 103.1L890.4 102.7L890.6 102.3L890.8 102.1L891.1 102.0L891.3 102.1L891.5 102.3L891.8 102.7L892.0 103.1L892.3 103.7L892.5 104.4L892.7 105.2L893.0 106.0L893.2 106.8L893.5 107.7L893.7 108.5L893.9 109.2L894.2 109.9L894.4 110.5L894.7 111.0L894.9 111.3L895.1 111.5L895.4 111.6L895.6 111.5L895.8 111.3L896.1 110.9L896.3 110.4L896.6 109.8L896.8 109.1L897.0 108.4L897.3 107.5L897.5 106.7L897.8 105.9L898.0 105.1L898.2 104.3L898.5 103.6L898.7 103.1L899.0 102.6L899.2 102.3L899.4 102.1L899.7 102.0L899.9 102.1L900.1 102.3L900.4 102.7L900.6 103.2L900.9 103.8L901.1 104.5L901.3 105.3L901.6 106.1L901.8 106.9L902.1 107.8L902.3 108.6L902.5 109.3L902.8 110.0L903.0 110.6L903.3 111.0L903.5 111.4L903.7 111.5L904.0 111.6L904.2 111.5L904.4 111.2L904.7 110.8L904.9 110.3L905.2 109.7L905.4 109.0L905.6 108.2L905.9 107.4L906.1 106.6L906.4 105.8L906.6 105.0L906.8 104.2L907.1 103.6L907.3 103.0L907.5 102.5L907.8 102.2L908.0 102.0L908.3 102.0L908.5 102.1L908.7 102.4L909.0 102.8L909.2 103.3L909.5 103.9L909.7 104.6L909.9 105.4L910.2 106.2L910.4 107.1L910.7 107.9L910.9 108.7L911.1 109.4L911.4 110.1L911.6 110.6L911.8 111.1L912.1 111.4L912.3 111.6L912.6 111.6L912.8 111.5L913.0 111.2L913.3 110.8L913.5 110.3L913.8 109.6L914.0 108.9L914.2 108.1L914.5 107.3L914.7 106.5L915.0 105.6L915.2 104.8L915.4 104.1L915.7 103.5L915.9 102.9L916.1 102.5L916.4 102.2L916.6 102.0L916.9 102.0L917.1 102.2L917.3 102.4L917.6 102.8L917.8 103.4L918.1 104.0L918.3 104.7L918.5 105.5L918.8 106.3L919.0 107.2L919.3 108.0L919.5 108.8L919.7 109.5L920.0 110.2L920.2 110.7L920.4 111.1L920.7 111.4L920.9 111.6L921.2 111.6L921.4 111.4L921.6 111.1L921.9 110.7L922.1 110.2L922.4 109.5L922.6 108.8L922.8 108.0L923.1 107.2L923.3 106.3L923.6 105.5L923.8 104.7L924.0 104.0L924.3 103.4L924.5 102.8L924.7 102.4L925.0 102.2L925.2 102.0L925.5 102.0L925.7 102.2L925.9 102.5L926.2 102.9L926.4 103.5L926.7 104.1L926.9 104.8L927.1 105.6L927.4 106.5L927.6 107.3L927.8 108.1L928.1 108.9L928.3 109.6L928.6 110.3L928.8 110.8L929.0 111.2L929.3 111.5L929.5 111.6L929.8 111.6L930.0 111.4L930.2 111.1L930.5 110.6L930.7 110.1L931.0 109.4L931.2 108.7L931.4 107.9L931.7 107.1L931.9 106.2L932.1 105.4L932.4 104.6L932.6 103.9L932.9 103.3L933.1 102.8L933.3 102.4L933.6 102.1L933.8 102.0L934.1 102.0L934.3 102.2L934.5 102.5L934.8 103.0L935.0 103.6L935.3 104.2L935.5 105.0L935.7 105.8L936.0 106.6L936.2 107.4L936.4 108.2L936.7 109.0L936.9 109.7L937.2 110.3L937.4 110.8L937.6 111.2L937.9 111.5L938.1 111.6L938.4 111.5L938.6 111.4L938.8 111.0L939.1 110.6L939.3 110.0L939.6 109.3L939.8 108.6L940.0 107.8L940.3 106.9L940.5 106.1L940.7 105.3L941.0 104.5L941.2 103.8L941.5 103.2L941.7 102.7L941.9 102.3L942.2 102.1L942.4 102.0L942.7 102.1L942.9 102.3L943.1 102.6L943.4 103.1L943.6 103.6L943.9 104.3L944.1 105.1L944.3 105.9L944.6 106.7L944.8 107.5L945.0 108.4L945.3 109.1L945.5 109.8L945.8 110.4L946.0 110.9L946.2 111.3L946.5 111.5L946.7 111.6L947.0 111.5L947.2 111.3L947.4 111.0L947.7 110.5L947.9 109.9L948.1 109.2L948.4 108.5L948.6 107.7L948.9 106.8L949.1 106.0L949.3 105.2L949.6 104.4L949.8 103.7L950.1 103.1L950.3 102.7L950.5 102.3L950.8 102.1L951.0 102.0L951.3 102.1L951.5 102.3L951.7 102.7L952.0 103.1L952.2 103.7L952.4 104.4L952.7 105.2L952.9 106.0L953.2 106.8L953.4 107.7L953.6 108.5L953.9 109.2L954.1 109.9L954.4 110.5L954.6 111.0L954.8 111.3L955.1 111.5L955.3 111.6L955.6 111.5L955.8 111.3L956.0 110.9L956.3 110.4L956.5 109.8L956.7 109.1L957.0 108.4L957.2 107.5L957.5 106.7L957.7 105.9L957.9 105.1L958.2 104.3L958.4 103.6L958.7 103.1L958.9 102.6L959.1 102.3L959.4 102.1L959.6 102.0L959.9 102.1L960.1 102.3L960.3 102.7L960.6 103.2L960.8 103.8L961.0 104.5L961.3 105.3L961.5 106.1L961.8 106.9L962.0 107.8L962.2 108.6L962.5 109.3L962.7 110.0L963.0 110.6L963.2 111.0L963.4 111.4L963.7 111.5L963.9 111.6L964.2 111.5L964.4 111.2L964.6 110.8L964.9 110.3L965.1 109.7L965.3 109.0L965.6 108.2L965.8 107.4L966.1 106.6L966.3 105.8L966.5 105.0L966.8 104.2L967.0 103.6L967.3 103.0L967.5 102.5L967.7 102.2L968.0 102.0L968.2 102.0L968.4 102.1L968.7 102.4L968.9 102.8L969.2 103.3L969.4 103.9L969.6 104.6L969.9 105.4L970.1 106.2L970.4 107.1L970.6 107.9L970.8 108.7L971.1 109.4L971.3 110.1L971.6 110.6L971.8 111.1L972.0 111.4L972.3 111.6L972.5 111.6L972.7 111.5L973.0 111.2L973.2 110.8L973.5 110.3L973.7 109.6L973.9 108.9L974.2 108.1L974.4 107.3L974.7 106.5L974.9 105.6L975.1 104.8L975.4 104.1L975.6 103.5L975.9 102.9L976.1 102.5L976.3 102.2L976.6 102.0L976.8 102.0L977.0 102.2L977.3 102.4L977.5 102.8L977.8 103.4L978.0 104.0L978.2 104.7L978.5 105.5L978.7 106.3L979.0 107.2L979.2 108.0L979.4 108.8L979.7 109.5L979.9 110.2L980.2 110.7L980.4 111.1L980.6 111.4L980.9 111.6L981.1 111.6L981.3 111.4L981.6 111.1L981.8 110.7L982.1 110.2L982.3 109.5L982.5 108.8L982.8 108.0L983.0 107.2L983.3 106.3L983.5 105.5L983.7 104.7L984.0 104.0L984.2 103.4L984.5 102.8L984.7 102.4" stroke="#000" stroke-width="1.9"/><path d="M815.8 41.0L817.2 131.5L819.9 129.6L823.7 121.7L825.7 110.5L826.8 106.6L827.0 106.6L827.2 106.8L827.5 107.2L827.7 107.7L828.0 108.4L828.2 109.1L828.4 110.0L828.7 110.9L828.9 111.9L829.1 112.9L829.4 113.9L829.6 114.8L829.9 115.6L830.1 116.4L830.3 117.0L830.6 117.4L830.8 117.7L831.1 117.9L831.3 117.8L831.5 117.6L831.8 117.3L832.0 116.7L832.3 116.1L832.5 115.3L832.7 114.4L833.0 113.5L833.2 112.5L833.4 111.5L833.7 110.5L833.9 109.6L834.2 108.8L834.4 108.1L834.6 107.5L834.9 107.0L835.1 106.7L835.4 106.6L835.6 106.7L835.8 106.9L836.1 107.3L836.3 107.8L836.6 108.5L836.8 109.3L837.0 110.1L837.3 111.1L837.5 112.1L837.7 113.1L838.0 114.0L838.2 114.9L838.5 115.7L838.7 116.5L838.9 117.0L839.2 117.5L839.4 117.8L839.7 117.9L839.9 117.8L840.1 117.6L840.4 117.2L840.6 116.6L840.8 116.0L841.1 115.2L841.3 114.3L841.6 113.3L841.8 112.3L842.0 111.4L842.3 110.4L842.5 109.5L842.8 108.7L843.0 108.0L843.2 107.4L843.5 107.0L843.7 106.7L844.0 106.6L844.2 106.7L844.4 106.9L844.7 107.3L844.9 107.9L845.1 108.6L845.4 109.4L845.6 110.3L845.9 111.2L846.1 112.2L846.3 113.2L846.6 114.1L846.8 115.0L847.1 115.9L847.3 116.6L847.5 117.1L847.8 117.5L848.0 117.8L848.3 117.9L848.5 117.8L848.7 117.5L849.0 117.1L849.2 116.6L849.4 115.9L849.7 115.0L849.9 114.1L850.2 113.2L850.4 112.2L850.6 111.2L850.9 110.3L851.1 109.4L851.4 108.6L851.6 107.9L851.8 107.3L852.1 106.9L852.3 106.7L852.6 106.6L852.8 106.7L853.0 107.0L853.3 107.4L853.5 108.0L853.7 108.7L854.0 109.5L854.2 110.4L854.5 111.4L854.7 112.3L854.9 113.3L855.2 114.3L855.4 115.2L855.7 116.0L855.9 116.6L856.1 117.2L856.4 117.6L856.6 117.8L856.9 117.9L857.1 117.8L857.3 117.5L857.6 117.0L857.8 116.5L858.0 115.7L858.3 114.9L858.5 114.0L858.8 113.1L859.0 112.1L859.2 111.1L859.5 110.1L859.7 109.3L860.0 108.5L860.2 107.8L860.4 107.3L860.7 106.9L860.9 106.7L861.1 106.6L861.4 106.7L861.6 107.0L861.9 107.5L862.1 108.1L862.3 108.8L862.6 109.6L862.8 110.5L863.1 111.5L863.3 112.5L863.5 113.5L863.8 114.4L864.0 115.3L864.3 116.1L864.5 116.7L864.7 117.3L865.0 117.6L865.2 117.8L865.4 117.9L865.7 117.7L865.9 117.4L866.2 117.0L866.4 116.4L866.6 115.6L866.9 114.8L867.1 113.9L867.4 112.9L867.6 111.9L867.8 110.9L868.1 110.0L868.3 109.1L868.6 108.4L868.8 107.7L869.0 107.2L869.3 106.8L869.5 106.6L869.7 106.6L870.0 106.8L870.2 107.1L870.5 107.5L870.7 108.2L870.9 108.9L871.2 109.8L871.4 110.7L871.7 111.6L871.9 112.6L872.1 113.6L872.4 114.5L872.6 115.4L872.9 116.2L873.1 116.8L873.3 117.3L873.6 117.7L873.8 117.9L874.0 117.9L874.3 117.7L874.5 117.4L874.8 116.9L875.0 116.3L875.2 115.5L875.5 114.7L875.7 113.7L876.0 112.8L876.2 111.8L876.4 110.8L876.7 109.9L876.9 109.0L877.2 108.3L877.4 107.6L877.6 107.1L877.9 106.8L878.1 106.6L878.3 106.6L878.6 106.8L878.8 107.1L879.1 107.6L879.3 108.3L879.5 109.0L879.8 109.9L880.0 110.8L880.3 111.8L880.5 112.8L880.7 113.7L881.0 114.7L881.2 115.5L881.4 116.3L881.7 116.9L881.9 117.4L882.2 117.7L882.4 117.9L882.6 117.9L882.9 117.7L883.1 117.3L883.4 116.8L883.6 116.2L883.8 115.4L884.1 114.5L884.3 113.6L884.6 112.6L884.8 111.6L885.0 110.7L885.3 109.8L885.5 108.9L885.7 108.2L886.0 107.5L886.2 107.1L886.5 106.8L886.7 106.6L886.9 106.6L887.2 106.8L887.4 107.2L887.7 107.7L887.9 108.4L888.1 109.1L888.4 110.0L888.6 110.9L888.9 111.9L889.1 112.9L889.3 113.9L889.6 114.8L889.8 115.6L890.0 116.4L890.3 117.0L890.5 117.4L890.8 117.7L891.0 117.9L891.2 117.8L891.5 117.6L891.7 117.3L892.0 116.7L892.2 116.1L892.4 115.3L892.7 114.4L892.9 113.5L893.2 112.5L893.4 111.5L893.6 110.5L893.9 109.6L894.1 108.8L894.3 108.1L894.6 107.5L894.8 107.0L895.1 106.7L895.3 106.6L895.5 106.7L895.8 106.9L896.0 107.3L896.3 107.8L896.5 108.5L896.7 109.3L897.0 110.1L897.2 111.1L897.5 112.1L897.7 113.1L897.9 114.0L898.2 114.9L898.4 115.7L898.6 116.5L898.9 117.0L899.1 117.5L899.4 117.8L899.6 117.9L899.8 117.8L900.1 117.6L900.3 117.2L900.6 116.6L900.8 116.0L901.0 115.2L901.3 114.3L901.5 113.3L901.7 112.3L902.0 111.4L902.2 110.4L902.5 109.5L902.7 108.7L902.9 108.0L903.2 107.4L903.4 107.0L903.7 106.7L903.9 106.6L904.1 106.7L904.4 106.9L904.6 107.3L904.9 107.9L905.1 108.6L905.3 109.4L905.6 110.3L905.8 111.2L906.0 112.2L906.3 113.2L906.5 114.1L906.8 115.0L907.0 115.9L907.2 116.6L907.5 117.1L907.7 117.5L908.0 117.8L908.2 117.9L908.4 117.8L908.7 117.5L908.9 117.1L909.2 116.6L909.4 115.9L909.6 115.0L909.9 114.1L910.1 113.2L910.3 112.2L910.6 111.2L910.8 110.3L911.1 109.4L911.3 108.6L911.5 107.9L911.8 107.3L912.0 106.9L912.3 106.7L912.5 106.6L912.7 106.7L913.0 107.0L913.2 107.4L913.5 108.0L913.7 108.7L913.9 109.5L914.2 110.4L914.4 111.4L914.6 112.3L914.9 113.3L915.1 114.3L915.4 115.2L915.6 116.0L915.8 116.6L916.1 117.2L916.3 117.6L916.6 117.8L916.8 117.9L917.0 117.8L917.3 117.5L917.5 117.0L917.8 116.5L918.0 115.7L918.2 114.9L918.5 114.0L918.7 113.1L918.9 112.1L919.2 111.1L919.4 110.1L919.7 109.3L919.9 108.5L920.1 107.8L920.4 107.3L920.6 106.9L920.9 106.7L921.1 106.6L921.3 106.7L921.6 107.0L921.8 107.5L922.0 108.1L922.3 108.8L922.5 109.6L922.8 110.5L923.0 111.5L923.2 112.5L923.5 113.5L923.7 114.4L924.0 115.3L924.2 116.1L924.4 116.7L924.7 117.3L924.9 117.6L925.2 117.8L925.4 117.9L925.6 117.7L925.9 117.4L926.1 117.0L926.3 116.4L926.6 115.6L926.8 114.8L927.1 113.9L927.3 112.9L927.5 111.9L927.8 110.9L928.0 110.0L928.3 109.1L928.5 108.4L928.7 107.7L929.0 107.2L929.2 106.8L929.5 106.6L929.7 106.6L929.9 106.8L930.2 107.1L930.4 107.5L930.6 108.2L930.9 108.9L931.1 109.8L931.4 110.7L931.6 111.6L931.8 112.6L932.1 113.6L932.3 114.5L932.6 115.4L932.8 116.2L933.0 116.8L933.3 117.3L933.5 117.7L933.8 117.9L934.0 117.9L934.2 117.7L934.5 117.4L934.7 116.9L934.9 116.3L935.2 115.5L935.4 114.7L935.7 113.7L935.9 112.8L936.1 111.8L936.4 110.8L936.6 109.9L936.9 109.0L937.1 108.3L937.3 107.6L937.6 107.1L937.8 106.8L938.1 106.6L938.3 106.6L938.5 106.8L938.8 107.1L939.0 107.6L939.2 108.3L939.5 109.0L939.7 109.9L940.0 110.8L940.2 111.8L940.4 112.8L940.7 113.7L940.9 114.7L941.2 115.5L941.4 116.3L941.6 116.9L941.9 117.4L942.1 117.7L942.3 117.9L942.6 117.9L942.8 117.7L943.1 117.3L943.3 116.8L943.5 116.2L943.8 115.4L944.0 114.5L944.3 113.6L944.5 112.6L944.7 111.6L945.0 110.7L945.2 109.8L945.5 108.9L945.7 108.2L945.9 107.5L946.2 107.1L946.4 106.8L946.6 106.6L946.9 106.6L947.1 106.8L947.4 107.2L947.6 107.7L947.8 108.4L948.1 109.1L948.3 110.0L948.6 110.9L948.8 111.9L949.0 112.9L949.3 113.9L949.5 114.8L949.8 115.6L950.0 116.4L950.2 117.0L950.5 117.4L950.7 117.7L950.9 117.9L951.2 117.8L951.4 117.6L951.7 117.3L951.9 116.7L952.1 116.1L952.4 115.3L952.6 114.4L952.9 113.5L953.1 112.5L953.3 111.5L953.6 110.5L953.8 109.6L954.1 108.8L954.3 108.1L954.5 107.5L954.8 107.0L955.0 106.7L955.2 106.6L955.5 106.7L955.7 106.9L956.0 107.3L956.2 107.8L956.4 108.5L956.7 109.3L956.9 110.1L957.2 111.1L957.4 112.1L957.6 113.1L957.9 114.0L958.1 114.9L958.4 115.7L958.6 116.5L958.8 117.0L959.1 117.5L959.3 117.8L959.5 117.9L959.8 117.8L960.0 117.6L960.3 117.2L960.5 116.6L960.7 116.0L961.0 115.2L961.2 114.3L961.5 113.3L961.7 112.3L961.9 111.4L962.2 110.4L962.4 109.5L962.6 108.7L962.9 108.0L963.1 107.4L963.4 107.0L963.6 106.7L963.8 106.6L964.1 106.7L964.3 106.9L964.6 107.3L964.8 107.9L965.0 108.6L965.3 109.4L965.5 110.3L965.8 111.2L966.0 112.2L966.2 113.2L966.5 114.1L966.7 115.0L966.9 115.9L967.2 116.6L967.4 117.1L967.7 117.5L967.9 117.8L968.1 117.9L968.4 117.8L968.6 117.5L968.9 117.1L969.1 116.6L969.3 115.9L969.6 115.0L969.8 114.1L970.1 113.2L970.3 112.2L970.5 111.2L970.8 110.3L971.0 109.4L971.2 108.6L971.5 107.9L971.7 107.3L972.0 106.9L972.2 106.7L972.4 106.6L972.7 106.7L972.9 107.0L973.2 107.4L973.4 108.0L973.6 108.7L973.9 109.5L974.1 110.4L974.4 111.4L974.6 112.3L974.8 113.3L975.1 114.3L975.3 115.2L975.5 116.0L975.8 116.6L976.0 117.2L976.3 117.6L976.5 117.8L976.7 117.9L977.0 117.8L977.2 117.5L977.5 117.0L977.7 116.5L977.9 115.7L978.2 114.9L978.4 114.0L978.7 113.1L978.9 112.1L979.1 111.1L979.4 110.1L979.6 109.3L979.8 108.5L980.1 107.8L980.3 107.3L980.6 106.9L980.8 106.7L981.0 106.6L981.3 106.7L981.5 107.0L981.8 107.5L982.0 108.1L982.2 108.8L982.5 109.6L982.7 110.5L982.9 111.5L983.2 112.5L983.4 113.5L983.7 114.4L983.9 115.3L984.1 116.1L984.4 116.7L984.6 117.3" stroke="#f00" stroke-dasharray="5 5"/><path d="M815.8 172.2L816.5 106.6L818.6 68.6L819.3 71.2L821.6 81.7L824.4 92.2L826.4 103.3L827.4 108.3L827.7 107.9L827.9 107.5L828.2 107.1L828.4 106.6L828.6 106.2L828.9 105.7L829.1 105.2L829.4 104.8L829.6 104.5L829.8 104.2L830.1 104.0L830.3 103.8L830.5 103.7L830.8 103.7L831.0 103.8L831.3 104.0L831.5 104.2L831.7 104.5L832.0 104.9L832.2 105.3L832.5 105.8L832.7 106.2L832.9 106.7L833.2 107.2L833.4 107.6L833.7 108.0L833.9 108.3L834.1 108.6L834.4 108.9L834.6 109.0L834.8 109.1L835.1 109.1L835.3 109.0L835.6 108.8L835.8 108.6L836.0 108.3L836.3 107.9L836.5 107.5L836.8 107.0L837.0 106.6L837.2 106.1L837.5 105.6L837.7 105.2L837.9 104.8L838.2 104.4L838.4 104.1L838.7 103.9L838.9 103.8L839.1 103.7L839.4 103.7L839.6 103.8L839.9 104.0L840.1 104.3L840.3 104.6L840.6 105.0L840.8 105.4L841.1 105.8L841.3 106.3L841.5 106.8L841.8 107.2L842.0 107.6L842.2 108.0L842.5 108.4L842.7 108.7L843.0 108.9L843.2 109.0L843.4 109.1L843.7 109.1L843.9 109.0L844.2 108.8L844.4 108.5L844.6 108.2L844.9 107.8L845.1 107.4L845.4 107.0L845.6 106.5L845.8 106.0L846.1 105.6L846.3 105.1L846.5 104.7L846.8 104.4L847.0 104.1L847.3 103.9L847.5 103.8L847.7 103.7L848.0 103.7L848.2 103.9L848.5 104.0L848.7 104.3L848.9 104.6L849.2 105.0L849.4 105.4L849.7 105.9L849.9 106.4L850.1 106.8L850.4 107.3L850.6 107.7L850.8 108.1L851.1 108.4L851.3 108.7L851.6 108.9L851.8 109.0L852.0 109.1L852.3 109.1L852.5 108.9L852.8 108.7L853.0 108.5L853.2 108.2L853.5 107.8L853.7 107.3L854.0 106.9L854.2 106.4L854.4 106.0L854.7 105.5L854.9 105.1L855.1 104.7L855.4 104.3L855.6 104.1L855.9 103.9L856.1 103.8L856.3 103.7L856.6 103.8L856.8 103.9L857.1 104.1L857.3 104.3L857.5 104.7L857.8 105.1L858.0 105.5L858.2 106.0L858.5 106.4L858.7 106.9L859.0 107.3L859.2 107.8L859.4 108.2L859.7 108.5L859.9 108.7L860.2 108.9L860.4 109.1L860.6 109.1L860.9 109.0L861.1 108.9L861.4 108.7L861.6 108.4L861.8 108.1L862.1 107.7L862.3 107.3L862.5 106.8L862.8 106.4L863.0 105.9L863.3 105.4L863.5 105.0L863.7 104.6L864.0 104.3L864.2 104.0L864.5 103.9L864.7 103.7L864.9 103.7L865.2 103.8L865.4 103.9L865.7 104.1L865.9 104.4L866.1 104.7L866.4 105.1L866.6 105.6L866.8 106.0L867.1 106.5L867.3 107.0L867.6 107.4L867.8 107.8L868.0 108.2L868.3 108.5L868.5 108.8L868.8 109.0L869.0 109.1L869.2 109.1L869.5 109.0L869.7 108.9L870.0 108.7L870.2 108.4L870.4 108.0L870.7 107.6L870.9 107.2L871.1 106.8L871.4 106.3L871.6 105.8L871.9 105.4L872.1 105.0L872.3 104.6L872.6 104.3L872.8 104.0L873.1 103.8L873.3 103.7L873.5 103.7L873.8 103.8L874.0 103.9L874.3 104.1L874.5 104.4L874.7 104.8L875.0 105.2L875.2 105.6L875.4 106.1L875.7 106.6L875.9 107.0L876.2 107.5L876.4 107.9L876.6 108.3L876.9 108.6L877.1 108.8L877.4 109.0L877.6 109.1L877.8 109.1L878.1 109.0L878.3 108.9L878.5 108.6L878.8 108.3L879.0 108.0L879.3 107.6L879.5 107.2L879.7 106.7L880.0 106.2L880.2 105.8L880.5 105.3L880.7 104.9L880.9 104.5L881.2 104.2L881.4 104.0L881.7 103.8L881.9 103.7L882.1 103.7L882.4 103.8L882.6 104.0L882.8 104.2L883.1 104.5L883.3 104.8L883.6 105.2L883.8 105.7L884.0 106.2L884.3 106.6L884.5 107.1L884.8 107.5L885.0 107.9L885.2 108.3L885.5 108.6L885.7 108.8L886.0 109.0L886.2 109.1L886.4 109.1L886.7 109.0L886.9 108.8L887.1 108.6L887.4 108.3L887.6 107.9L887.9 107.5L888.1 107.1L888.3 106.6L888.6 106.2L888.8 105.7L889.1 105.2L889.3 104.8L889.5 104.5L889.8 104.2L890.0 104.0L890.3 103.8L890.5 103.7L890.7 103.7L891.0 103.8L891.2 104.0L891.4 104.2L891.7 104.5L891.9 104.9L892.2 105.3L892.4 105.8L892.6 106.2L892.9 106.7L893.1 107.2L893.4 107.6L893.6 108.0L893.8 108.3L894.1 108.6L894.3 108.9L894.6 109.0L894.8 109.1L895.0 109.1L895.3 109.0L895.5 108.8L895.7 108.6L896.0 108.3L896.2 107.9L896.5 107.5L896.7 107.0L896.9 106.6L897.2 106.1L897.4 105.6L897.7 105.2L897.9 104.8L898.1 104.4L898.4 104.1L898.6 103.9L898.8 103.8L899.1 103.7L899.3 103.7L899.6 103.8L899.8 104.0L900.0 104.3L900.3 104.6L900.5 105.0L900.8 105.4L901.0 105.8L901.2 106.3L901.5 106.8L901.7 107.2L902.0 107.6L902.2 108.0L902.4 108.4L902.7 108.7L902.9 108.9L903.1 109.0L903.4 109.1L903.6 109.1L903.9 109.0L904.1 108.8L904.3 108.5L904.6 108.2L904.8 107.8L905.1 107.4L905.3 107.0L905.5 106.5L905.8 106.0L906.0 105.6L906.3 105.1L906.5 104.7L906.7 104.4L907.0 104.1L907.2 103.9L907.4 103.8L907.7 103.7L907.9 103.7L908.2 103.9L908.4 104.0L908.6 104.3L908.9 104.6L909.1 105.0L909.4 105.4L909.6 105.9L909.8 106.4L910.1 106.8L910.3 107.3L910.6 107.7L910.8 108.1L911.0 108.4L911.3 108.7L911.5 108.9L911.7 109.0L912.0 109.1L912.2 109.1L912.5 108.9L912.7 108.7L912.9 108.5L913.2 108.2L913.4 107.8L913.7 107.3L913.9 106.9L914.1 106.4L914.4 106.0L914.6 105.5L914.9 105.1L915.1 104.7L915.3 104.3L915.6 104.1L915.8 103.9L916.0 103.8L916.3 103.7L916.5 103.8L916.8 103.9L917.0 104.1L917.2 104.3L917.5 104.7L917.7 105.1L918.0 105.5L918.2 106.0L918.4 106.4L918.7 106.9L918.9 107.3L919.1 107.8L919.4 108.2L919.6 108.5L919.9 108.7L920.1 108.9L920.3 109.1L920.6 109.1L920.8 109.0L921.1 108.9L921.3 108.7L921.5 108.4L921.8 108.1L922.0 107.7L922.3 107.3L922.5 106.8L922.7 106.4L923.0 105.9L923.2 105.4L923.4 105.0L923.7 104.6L923.9 104.3L924.2 104.0L924.4 103.9L924.6 103.7L924.9 103.7L925.1 103.8L925.4 103.9L925.6 104.1L925.8 104.4L926.1 104.7L926.3 105.1L926.6 105.6L926.8 106.0L927.0 106.5L927.3 107.0L927.5 107.4L927.7 107.8L928.0 108.2L928.2 108.5L928.5 108.8L928.7 109.0L928.9 109.1L929.2 109.1L929.4 109.0L929.7 108.9L929.9 108.7L930.1 108.4L930.4 108.0L930.6 107.6L930.9 107.2L931.1 106.8L931.3 106.3L931.6 105.8L931.8 105.4L932.0 105.0L932.3 104.6L932.5 104.3L932.8 104.0L933.0 103.8L933.2 103.7L933.5 103.7L933.7 103.8L934.0 103.9L934.2 104.1L934.4 104.4L934.7 104.8L934.9 105.2L935.2 105.6L935.4 106.1L935.6 106.6L935.9 107.0L936.1 107.5L936.3 107.9L936.6 108.3L936.8 108.6L937.1 108.8L937.3 109.0L937.5 109.1L937.8 109.1L938.0 109.0L938.3 108.9L938.5 108.6L938.7 108.3L939.0 108.0L939.2 107.6L939.4 107.2L939.7 106.7L939.9 106.2L940.2 105.8L940.4 105.3L940.6 104.9L940.9 104.5L941.1 104.2L941.4 104.0L941.6 103.8L941.8 103.7L942.1 103.7L942.3 103.8L942.6 104.0L942.8 104.2L943.0 104.5L943.3 104.8L943.5 105.2L943.7 105.7L944.0 106.2L944.2 106.6L944.5 107.1L944.7 107.5L944.9 107.9L945.2 108.3L945.4 108.6L945.7 108.8L945.9 109.0L946.1 109.1L946.4 109.1L946.6 109.0L946.9 108.8L947.1 108.6L947.3 108.3L947.6 107.9L947.8 107.5L948.0 107.1L948.3 106.6L948.5 106.2L948.8 105.7L949.0 105.2L949.2 104.8L949.5 104.5L949.7 104.2L950.0 104.0L950.2 103.8L950.4 103.7L950.7 103.7L950.9 103.8L951.2 104.0L951.4 104.2L951.6 104.5L951.9 104.9L952.1 105.3L952.3 105.8L952.6 106.2L952.8 106.7L953.1 107.2L953.3 107.6L953.5 108.0L953.8 108.3L954.0 108.6L954.3 108.9L954.5 109.0L954.7 109.1L955.0 109.1L955.2 109.0L955.5 108.8L955.7 108.6L955.9 108.3L956.2 107.9L956.4 107.5L956.6 107.0L956.9 106.6L957.1 106.1L957.4 105.6L957.6 105.2L957.8 104.8L958.1 104.4L958.3 104.1L958.6 103.9L958.8 103.8L959.0 103.7L959.3 103.7L959.5 103.8L959.7 104.0L960.0 104.3L960.2 104.6L960.5 105.0L960.7 105.4L960.9 105.8L961.2 106.3L961.4 106.8L961.7 107.2L961.9 107.6L962.1 108.0L962.4 108.4L962.6 108.7L962.9 108.9L963.1 109.0L963.3 109.1L963.6 109.1L963.8 109.0L964.0 108.8L964.3 108.5L964.5 108.2L964.8 107.8L965.0 107.4L965.2 107.0L965.5 106.5L965.7 106.0L966.0 105.6L966.2 105.1L966.4 104.7L966.7 104.4L966.9 104.1L967.2 103.9L967.4 103.8L967.6 103.7L967.9 103.7L968.1 103.9L968.3 104.0L968.6 104.3L968.8 104.6L969.1 105.0L969.3 105.4L969.5 105.9L969.8 106.4L970.0 106.8L970.3 107.3L970.5 107.7L970.7 108.1L971.0 108.4L971.2 108.7L971.5 108.9L971.7 109.0L971.9 109.1L972.2 109.1L972.4 108.9L972.6 108.7L972.9 108.5L973.1 108.2L973.4 107.8L973.6 107.3L973.8 106.9L974.1 106.4L974.3 106.0L974.6 105.5L974.8 105.1L975.0 104.7L975.3 104.3L975.5 104.1L975.8 103.9L976.0 103.8L976.2 103.7L976.5 103.8L976.7 103.9L976.9 104.1L977.2 104.3L977.4 104.7L977.7 105.1L977.9 105.5L978.1 106.0L978.4 106.4L978.6 106.9L978.9 107.3L979.1 107.8L979.3 108.2L979.6 108.5L979.8 108.7L980.0 108.9L980.3 109.1L980.5 109.1L980.8 109.0L981.0 108.9L981.2 108.7L981.5 108.4L981.7 108.1L982.0 107.7L982.2 107.3L982.4 106.8L982.7 106.4L982.9 105.9L983.2 105.4L983.4 105.0L983.6 104.6L983.9 104.3L984.1 104.0L984.3 103.9L984.6 103.7" stroke="#00f" stroke-dasharray="7 2 1.5 2"/></g><rect x="815.5" y="41.0" width="174.0" height="131.2" fill="none" stroke="#222" stroke-width="1.2"/><path d="M818.9 172.2v-2.8M836.0 172.2v-2.0M853.0 172.2v-2.8M870.1 172.2v-2.0M887.1 172.2v-2.8M904.2 172.2v-2.0M921.3 172.2v-2.8M938.3 172.2v-2.0M955.4 172.2v-2.8M972.4 172.2v-2.0M832.9 41.0v2.0M850.3 41.0v2.8M867.7 41.0v2.0M885.1 41.0v2.8M902.5 41.0v2.0M919.9 41.0v2.8M937.3 41.0v2.0M954.7 41.0v2.8M972.1 41.0v2.0M815.5 155.8h2.0M815.5 139.4h2.8M815.5 123.0h2.0M815.5 106.6h2.8M815.5 90.2h2.0M815.5 73.8h2.8M815.5 57.4h2.0M989.5 159.1h-2.5M989.5 146.0h-2.5M989.5 132.8h-2.5M989.5 119.7h-2.5M989.5 106.6h-2.5M989.5 93.5h-2.5M989.5 80.4h-2.5M989.5 67.2h-2.5M989.5 54.1h-2.5" stroke="#222" stroke-width="1" fill="none"/><text x="818.9" y="186.2" text-anchor="middle" style="font-family:'Liberation Serif',serif;font-size:14.5px" fill="#000">100</text><text x="853.0" y="186.2" text-anchor="middle" style="font-family:'Liberation Serif',serif;font-size:14.5px" fill="#000">150</text><text x="887.1" y="186.2" text-anchor="middle" style="font-family:'Liberation Serif',serif;font-size:14.5px" fill="#000">200</text><text x="921.3" y="186.2" text-anchor="middle" style="font-family:'Liberation Serif',serif;font-size:14.5px" fill="#000">250</text><text x="955.4" y="186.2" text-anchor="middle" style="font-family:'Liberation Serif',serif;font-size:14.5px" fill="#000">300</text><text x="989.5" y="186.2" text-anchor="middle" style="font-family:'Liberation Serif',serif;font-size:14.5px" fill="#000">350</text><text x="812.7" y="45.1" text-anchor="end" style="font-family:'Liberation Serif',serif;font-size:14.7px" fill="#000">100</text><text x="812.7" y="77.9" text-anchor="end" style="font-family:'Liberation Serif',serif;font-size:14.7px" fill="#000">50</text><text x="812.7" y="110.7" text-anchor="end" style="font-family:'Liberation Serif',serif;font-size:14.7px" fill="#000">0</text><text x="812.7" y="143.5" text-anchor="end" style="font-family:'Liberation Serif',serif;font-size:14.7px" fill="#000">-50</text><text x="812.7" y="176.3" text-anchor="end" style="font-family:'Liberation Serif',serif;font-size:14.7px" fill="#000">-100</text><rect x="940.6" y="46.8" width="43.799999999999955" height="40.7" fill="#fff" stroke="#888" stroke-width="1"/><path d="M945.2 54.8H965.9" stroke="#000" stroke-width="2"/><path d="M945.2 66.4H965.9" stroke="#f00" stroke-width="2" stroke-dasharray="5 7"/><path d="M945.2 77.6H965.9" stroke="#00f" stroke-width="2" stroke-dasharray="6 3.5 1.2 3.5"/><text x="968.9" y="57.8" style="font-family:'Liberation Serif',serif;font-size:9.3px;stroke:none" fill="#222">a4x</text><text x="968.9" y="69.4" style="font-family:'Liberation Serif',serif;font-size:9.3px;stroke:none" fill="#222">a4y</text><text x="968.9" y="80.6" style="font-family:'Liberation Serif',serif;font-size:9.3px;stroke:none" fill="#222">a4z</text></g>
<g>
<rect x="171.3" y="102.3" width="31.5" height="17.5" fill="#c0c0c0" stroke="#333" stroke-width="1" stroke-dasharray="1.5 1.5"/>
<clipPath id="gclip"><rect x="171.3" y="102.3" width="31.5" height="17.5"/></clipPath>
<g clip-path="url(#gclip)" fill="none" stroke-width="2"><path d="M166.0 104.0L166.2 103.5L166.5 103.2L166.7 103.0L167.0 103.0L167.2 103.1L167.5 103.4L167.7 103.8L168.0 104.3L168.2 104.9L168.5 105.6L168.7 106.4L169.0 107.2L169.2 108.1L169.5 108.9L169.7 109.7L169.9 110.4L170.2 111.1L170.4 111.6L170.7 112.1L170.9 112.4L171.2 112.6L171.4 112.6L171.7 112.5L171.9 112.2L172.2 111.8L172.4 111.3L172.7 110.6L172.9 109.9L173.2 109.1L173.4 108.3L173.6 107.5L173.9 106.6L174.1 105.8L174.4 105.1L174.6 104.5L174.9 103.9L175.1 103.5L175.4 103.2L175.6 103.0L175.9 103.0L176.1 103.2L176.4 103.4L176.6 103.8L176.9 104.4L177.1 105.0L177.3 105.7L177.6 106.5L177.8 107.3L178.1 108.2L178.3 109.0L178.6 109.8L178.8 110.5L179.1 111.2L179.3 111.7L179.6 112.1L179.8 112.4L180.1 112.6L180.3 112.6L180.6 112.4L180.8 112.1L181.0 111.7L181.3 111.2L181.5 110.5L181.8 109.8L182.0 109.0L182.3 108.2L182.5 107.3L182.8 106.5L183.0 105.7L183.3 105.0L183.5 104.4L183.8 103.8L184.0 103.4L184.3 103.2L184.5 103.0L184.7 103.0L185.0 103.2L185.2 103.5L185.5 103.9L185.7 104.5L186.0 105.1L186.2 105.8L186.5 106.6L186.7 107.5L187.0 108.3L187.2 109.1L187.5 109.9L187.7 110.6L188.0 111.3L188.2 111.8L188.4 112.2L188.7 112.5L188.9 112.6L189.2 112.6L189.4 112.4L189.7 112.1L189.9 111.6L190.2 111.1L190.4 110.4L190.7 109.7L190.9 108.9L191.2 108.1L191.4 107.2L191.7 106.4L191.9 105.6L192.1 104.9L192.4 104.3L192.6 103.8L192.9 103.4L193.1 103.1L193.4 103.0L193.6 103.0L193.9 103.2L194.1 103.5L194.4 104.0L194.6 104.6L194.9 105.2L195.1 106.0L195.4 106.8L195.6 107.6L195.8 108.4L196.1 109.2L196.3 110.0L196.6 110.7L196.8 111.3L197.1 111.8L197.3 112.2L197.6 112.5L197.8 112.6L198.1 112.5L198.3 112.4L198.6 112.0L198.8 111.6L199.1 111.0L199.3 110.3L199.5 109.6L199.8 108.8L200.0 107.9L200.3 107.1L200.5 106.3L200.8 105.5L201.0 104.8L201.3 104.2L201.5 103.7L201.8 103.3L202.0 103.1L202.3 103.0L202.5 103.1L202.8 103.3L203.0 103.6L203.2 104.1L203.5 104.6L203.7 105.3L204.0 106.1L204.2 106.9L204.5 107.7L204.7 108.5L205.0 109.4L205.2 110.1L205.5 110.8L205.7 111.4L206.0 111.9L206.2 112.3L206.4 112.5L206.7 112.6L206.9 112.5L207.2 112.3L207.4 112.0L207.7 111.5L207.9 110.9" stroke="#000"/><path d="M165.8 117.2L166.0 117.8L166.3 118.3L166.5 118.7L166.8 118.9L167.0 118.9L167.3 118.7L167.5 118.4L167.8 117.9L168.0 117.3L168.3 116.5L168.5 115.7L168.7 114.7L169.0 113.8L169.2 112.8L169.5 111.8L169.7 110.9L170.0 110.0L170.2 109.3L170.5 108.6L170.7 108.1L171.0 107.8L171.2 107.6L171.5 107.6L171.7 107.8L172.0 108.1L172.2 108.6L172.4 109.3L172.7 110.0L172.9 110.9L173.2 111.8L173.4 112.8L173.7 113.8L173.9 114.7L174.2 115.7L174.4 116.5L174.7 117.3L174.9 117.9L175.2 118.4L175.4 118.7L175.7 118.9L175.9 118.9L176.1 118.7L176.4 118.3L176.6 117.8L176.9 117.2L177.1 116.4L177.4 115.5L177.6 114.6L177.9 113.6L178.1 112.6L178.4 111.7L178.6 110.8L178.9 109.9L179.1 109.2L179.4 108.5L179.6 108.1L179.8 107.8L180.1 107.6L180.3 107.6L180.6 107.8L180.8 108.2L181.1 108.7L181.3 109.4L181.6 110.1L181.8 111.0L182.1 111.9L182.3 112.9L182.6 113.9L182.8 114.9L183.1 115.8L183.3 116.6L183.5 117.4L183.8 118.0L184.0 118.4L184.3 118.7L184.5 118.9L184.8 118.8L185.0 118.6L185.3 118.3L185.5 117.7L185.8 117.1L186.0 116.3L186.3 115.4L186.5 114.5L186.8 113.5L187.0 112.5L187.2 111.5L187.5 110.6L187.7 109.8L188.0 109.1L188.2 108.5L188.5 108.0L188.7 107.7L189.0 107.6L189.2 107.7L189.5 107.9L189.7 108.3L190.0 108.8L190.2 109.5L190.5 110.3L190.7 111.1L190.9 112.1L191.2 113.1L191.4 114.1L191.7 115.0L191.9 115.9L192.2 116.7L192.4 117.5L192.7 118.0L192.9 118.5L193.2 118.8L193.4 118.9L193.7 118.8L193.9 118.6L194.2 118.2L194.4 117.6L194.6 117.0L194.9 116.2L195.1 115.3L195.4 114.3L195.6 113.3L195.9 112.4L196.1 111.4L196.4 110.5L196.6 109.7L196.9 109.0L197.1 108.4L197.4 108.0L197.6 107.7L197.9 107.6L198.1 107.7L198.3 107.9L198.6 108.3L198.8 108.9L199.1 109.6L199.3 110.4L199.6 111.3L199.8 112.2L200.1 113.2L200.3 114.2L200.6 115.1L200.8 116.0L201.1 116.9L201.3 117.6L201.6 118.1L201.8 118.5L202.0 118.8L202.3 118.9L202.5 118.8L202.8 118.5L203.0 118.1L203.3 117.6L203.5 116.9L203.8 116.0L204.0 115.1L204.3 114.2L204.5 113.2L204.8 112.2L205.0 111.3L205.3 110.4L205.5 109.6L205.7 108.9L206.0 108.3L206.2 107.9L206.5 107.7L206.7 107.6L207.0 107.7L207.2 108.0L207.5 108.4L207.7 109.0L208.0 109.7" stroke="#f00" stroke-dasharray="5 3"/><path d="M165.9 104.9L166.1 104.8L166.4 104.7L166.6 104.7L166.8 104.8L167.1 105.0L167.3 105.3L167.6 105.6L167.8 106.0L168.1 106.4L168.3 106.8L168.6 107.3L168.8 107.8L169.1 108.2L169.3 108.6L169.6 109.0L169.8 109.4L170.1 109.7L170.3 109.9L170.5 110.0L170.8 110.1L171.0 110.1L171.3 110.0L171.5 109.8L171.8 109.5L172.0 109.2L172.3 108.8L172.5 108.4L172.8 108.0L173.0 107.5L173.3 107.0L173.5 106.6L173.8 106.1L174.0 105.7L174.2 105.4L174.5 105.1L174.7 104.9L175.0 104.8L175.2 104.7L175.5 104.7L175.7 104.9L176.0 105.0L176.2 105.3L176.5 105.6L176.7 106.0L177.0 106.4L177.2 106.9L177.5 107.4L177.7 107.8L177.9 108.3L178.2 108.7L178.4 109.1L178.7 109.4L178.9 109.7L179.2 109.9L179.4 110.0L179.7 110.1L179.9 110.1L180.2 109.9L180.4 109.7L180.7 109.5L180.9 109.2L181.2 108.8L181.4 108.3L181.6 107.9L181.9 107.4L182.1 107.0L182.4 106.5L182.6 106.1L182.9 105.7L183.1 105.3L183.4 105.1L183.6 104.9L183.9 104.8L184.1 104.7L184.4 104.8L184.6 104.9L184.9 105.1L185.1 105.3L185.3 105.7L185.6 106.1L185.8 106.5L186.1 107.0L186.3 107.4L186.6 107.9L186.8 108.3L187.1 108.8L187.3 109.2L187.6 109.5L187.8 109.7L188.1 109.9L188.3 110.1L188.6 110.1L188.8 110.0L189.0 109.9L189.3 109.7L189.5 109.4L189.8 109.1L190.0 108.7L190.3 108.3L190.5 107.8L190.8 107.4L191.0 106.9L191.3 106.4L191.5 106.0L191.8 105.6L192.0 105.3L192.2 105.0L192.5 104.9L192.7 104.7L193.0 104.7L193.2 104.8L193.5 104.9L193.7 105.1L194.0 105.4L194.2 105.7L194.5 106.1L194.7 106.6L195.0 107.0L195.2 107.5L195.5 108.0L195.7 108.4L195.9 108.8L196.2 109.2L196.4 109.5L196.7 109.8L196.9 110.0L197.2 110.1L197.4 110.1L197.7 110.0L197.9 109.9L198.2 109.7L198.4 109.4L198.7 109.0L198.9 108.6L199.2 108.2L199.4 107.8L199.6 107.3L199.9 106.8L200.1 106.4L200.4 106.0L200.6 105.6L200.9 105.3L201.1 105.0L201.4 104.8L201.6 104.7L201.9 104.7L202.1 104.8L202.4 104.9L202.6 105.1L202.9 105.4L203.1 105.8L203.3 106.2L203.6 106.6L203.8 107.1L204.1 107.6L204.3 108.0L204.6 108.5L204.8 108.9L205.1 109.3L205.3 109.6L205.6 109.8L205.8 110.0L206.1 110.1L206.3 110.1L206.6 110.0L206.8 109.9L207.0 109.6L207.3 109.3L207.5 109.0L207.8 108.6" stroke="#00f" stroke-dasharray="6 3 1.5 3"/></g>
<path d="M172.2 120.4L164 125.6" stroke="#000" stroke-width="0.9"/><path d="M162.7 126.4L166.2 122.6L167.4 124.6Z" fill="#000"/>
<rect x="108.3" y="122.3" width="54.3" height="39.89999999999999" fill="#fff"/>
<clipPath id="iclip"><rect x="108.3" y="120.3" width="53.5" height="43.89999999999999"/></clipPath>
<g clip-path="url(#iclip)" fill="none" stroke-linejoin="round">
<path d="M108.04 134.11L108.30 134.02L108.56 134.07L108.82 134.26L109.08 134.58L109.34 135.03L109.60 135.61L109.86 136.31L110.12 137.13L110.38 138.04L110.64 139.06L110.90 140.16L111.16 141.34L111.43 142.57L111.69 143.86L111.95 145.19L112.21 146.55L112.47 147.91L112.73 149.27L112.99 150.62L113.25 151.93L113.51 153.20L113.77 154.42L114.03 155.57L114.29 156.64L114.55 157.62L114.81 158.50L115.07 159.27L115.33 159.92L115.59 160.46L115.85 160.86L116.11 161.13L116.37 161.27L116.63 161.27L116.89 161.13L117.15 160.86L117.42 160.46L117.68 159.92L117.94 159.27L118.20 158.50L118.46 157.62L118.72 156.64L118.98 155.57L119.24 154.42L119.50 153.20L119.76 151.93L120.02 150.62L120.28 149.27L120.54 147.91L120.80 146.55L121.06 145.19L121.32 143.86L121.58 142.57L121.84 141.34L122.10 140.16L122.36 139.06L122.62 138.04L122.88 137.13L123.14 136.31L123.41 135.61L123.67 135.03L123.93 134.58L124.19 134.26L124.45 134.07L124.71 134.02L124.97 134.11L125.23 134.33L125.49 134.68L125.75 135.17L126.01 135.78L126.27 136.51L126.53 137.35L126.79 138.29L127.05 139.33L127.31 140.45L127.57 141.64L127.83 142.89L128.09 144.19L128.35 145.53L128.61 146.89L128.87 148.25L129.13 149.61L129.39 150.95L129.66 152.25L129.92 153.51L130.18 154.71L130.44 155.84L130.70 156.89L130.96 157.85L131.22 158.70L131.48 159.44L131.74 160.07L132.00 160.57L132.26 160.94L132.52 161.18L132.78 161.28L133.04 161.25L133.30 161.08L133.56 160.77L133.82 160.34L134.08 159.77L134.34 159.09L134.60 158.29L134.86 157.38L135.12 156.38L135.38 155.29L135.65 154.12L135.91 152.89L136.17 151.61L136.43 150.28L136.69 148.93L136.95 147.57L137.21 146.21L137.47 144.86L137.73 143.54L137.99 142.26L138.25 141.03L138.51 139.88L138.77 138.80L139.03 137.80L139.29 136.91L139.55 136.13L139.81 135.46L140.07 134.91L140.33 134.49L140.59 134.20L140.85 134.05L141.11 134.03L141.37 134.15L141.64 134.40L141.90 134.79L142.16 135.31L142.42 135.95L142.68 136.70L142.94 137.57L143.20 138.54L143.46 139.60L143.72 140.74L143.98 141.95L144.24 143.21L144.50 144.52L144.76 145.87L145.02 147.23L145.28 148.59L145.54 149.95L145.80 151.28L146.06 152.57L146.32 153.82L146.58 155.00L146.84 156.11L147.10 157.14L147.36 158.07L147.63 158.90L147.89 159.61L148.15 160.21L148.41 160.68L148.67 161.01L148.93 161.22L149.19 161.29L149.45 161.22L149.71 161.01L149.97 160.68L150.23 160.21L150.49 159.61L150.75 158.90L151.01 158.07L151.27 157.14L151.53 156.11L151.79 155.00L152.05 153.82L152.31 152.57L152.57 151.28L152.83 149.95L153.09 148.59L153.35 147.23L153.62 145.87L153.88 144.52L154.14 143.21L154.40 141.95L154.66 140.74L154.92 139.60L155.18 138.54L155.44 137.57L155.70 136.70L155.96 135.95L156.22 135.31L156.48 134.79L156.74 134.40L157.00 134.15L157.26 134.03L157.52 134.05L157.78 134.20L158.04 134.49L158.30 134.91L158.56 135.46L158.82 136.13L159.08 136.91L159.34 137.80L159.61 138.80L159.87 139.88L160.13 141.03L160.39 142.26L160.65 143.54L160.91 144.86L161.17 146.21L161.43 147.57L161.69 148.93L161.95 150.28L162.21 151.61L162.47 152.89L162.73 154.12L162.99 155.29L163.25 156.38L163.51 157.38L163.77 158.29L164.03 159.09L164.29 159.77L164.55 160.34L164.81 160.77L165.07 161.08L165.33 161.25" stroke="#f00" stroke-width="2.6"/>
<path d="M108.04 144.67L108.30 144.74L108.56 144.70L108.82 144.55L109.08 144.29L109.34 143.93L109.60 143.46L109.86 142.90L110.12 142.24L110.38 141.51L110.64 140.69L110.90 139.80L111.16 138.86L111.43 137.86L111.69 136.82L111.95 135.75L112.21 134.66L112.47 133.57L112.73 132.47L112.99 131.39L113.25 130.33L113.51 129.30L113.77 128.32L114.03 127.40L114.29 126.54L114.55 125.75L114.81 125.04L115.07 124.42L115.33 123.89L115.59 123.47L115.85 123.14L116.11 122.92L116.37 122.81L116.63 122.81L116.89 122.92L117.15 123.14L117.42 123.47L117.68 123.89L117.94 124.42L118.20 125.04L118.46 125.75L118.72 126.54L118.98 127.40L119.24 128.32L119.50 129.30L119.76 130.33L120.02 131.39L120.28 132.47L120.54 133.57L120.80 134.66L121.06 135.75L121.32 136.82L121.58 137.86L121.84 138.86L122.10 139.80L122.36 140.69L122.62 141.51L122.88 142.24L123.14 142.90L123.41 143.46L123.67 143.93L123.93 144.29L124.19 144.55L124.45 144.70L124.71 144.74L124.97 144.67L125.23 144.50L125.49 144.21L125.75 143.82L126.01 143.33L126.27 142.74L126.53 142.07L126.79 141.31L127.05 140.47L127.31 139.57L127.57 138.61L127.83 137.60L128.09 136.56L128.35 135.48L128.61 134.39L128.87 133.29L129.13 132.20L129.39 131.12L129.66 130.07L129.92 129.05L130.18 128.09L130.44 127.18L130.70 126.33L130.96 125.57L131.22 124.88L131.48 124.28L131.74 123.78L132.00 123.37L132.26 123.08L132.52 122.88L132.78 122.80L133.04 122.83L133.30 122.97L133.56 123.21L133.82 123.56L134.08 124.02L134.34 124.57L134.60 125.21L134.86 125.94L135.12 126.75L135.38 127.63L135.65 128.56L135.91 129.56L136.17 130.59L136.43 131.66L136.69 132.74L136.95 133.84L137.21 134.94L137.47 136.02L137.73 137.08L137.99 138.11L138.25 139.10L138.51 140.03L138.77 140.90L139.03 141.70L139.29 142.42L139.55 143.05L139.81 143.59L140.07 144.03L140.33 144.37L140.59 144.60L140.85 144.72L141.11 144.74L141.37 144.64L141.64 144.43L141.90 144.12L142.16 143.71L142.42 143.19L142.68 142.58L142.94 141.89L143.20 141.11L143.46 140.25L143.72 139.34L143.98 138.36L144.24 137.34L144.50 136.29L144.76 135.21L145.02 134.11L145.28 133.02L145.54 131.93L145.80 130.85L146.06 129.81L146.32 128.81L146.58 127.85L146.84 126.96L147.10 126.13L147.36 125.39L147.63 124.72L147.89 124.15L148.15 123.67L148.41 123.29L148.67 123.02L148.93 122.85L149.19 122.80L149.45 122.85L149.71 123.02L149.97 123.29L150.23 123.67L150.49 124.15L150.75 124.72L151.01 125.39L151.27 126.13L151.53 126.96L151.79 127.85L152.05 128.81L152.31 129.81L152.57 130.85L152.83 131.93L153.09 133.02L153.35 134.11L153.62 135.21L153.88 136.29L154.14 137.34L154.40 138.36L154.66 139.34L154.92 140.25L155.18 141.11L155.44 141.89L155.70 142.58L155.96 143.19L156.22 143.71L156.48 144.12L156.74 144.43L157.00 144.64L157.26 144.74L157.52 144.72L157.78 144.60L158.04 144.37L158.30 144.03L158.56 143.59L158.82 143.05L159.08 142.42L159.34 141.70L159.61 140.90L159.87 140.03L160.13 139.10L160.39 138.11L160.65 137.08L160.91 136.02L161.17 134.94L161.43 133.84L161.69 132.74L161.95 131.66L162.21 130.59L162.47 129.56L162.73 128.56L162.99 127.63L163.25 126.75L163.51 125.94L163.77 125.21L164.03 124.57L164.29 124.02L164.55 123.56L164.81 123.21L165.07 122.97L165.33 122.83" stroke="#000" stroke-width="2.8"/>
<path d="M108.04 142.25L108.30 142.22L108.56 142.10L108.82 141.89L109.08 141.60L109.34 141.22L109.60 140.77L109.86 140.24L110.12 139.65L110.38 138.99L110.64 138.28L110.90 137.52L111.16 136.72L111.43 135.89L111.69 135.03L111.95 134.15L112.21 133.27L112.47 132.39L112.73 131.52L112.99 130.67L113.25 129.85L113.51 129.06L113.77 128.32L114.03 127.63L114.29 127.00L114.55 126.43L114.81 125.93L115.07 125.51L115.33 125.16L115.59 124.90L115.85 124.73L116.11 124.64L116.37 124.64L116.63 124.73L116.89 124.90L117.15 125.16L117.42 125.51L117.68 125.93L117.94 126.43L118.20 127.00L118.46 127.63L118.72 128.32L118.98 129.06L119.24 129.85L119.50 130.67L119.76 131.52L120.02 132.39L120.28 133.27L120.54 134.15L120.80 135.03L121.06 135.89L121.32 136.72L121.58 137.52L121.84 138.28L122.10 138.99L122.36 139.65L122.62 140.24L122.88 140.77L123.14 141.22L123.41 141.60L123.67 141.89L123.93 142.10L124.19 142.22L124.45 142.25L124.71 142.19L124.97 142.05L125.23 141.82L125.49 141.51L125.75 141.12L126.01 140.64L126.27 140.10L126.53 139.49L126.79 138.82L127.05 138.10L127.31 137.33L127.57 136.52L127.83 135.67L128.09 134.81L128.35 133.93L128.61 133.05L128.87 132.17L129.13 131.31L129.39 130.47L129.66 129.65L129.92 128.87L130.18 128.14L130.44 127.47L130.70 126.85L130.96 126.30L131.22 125.82L131.48 125.41L131.74 125.09L132.00 124.85L132.26 124.70L132.52 124.63L132.78 124.65L133.04 124.76L133.30 124.96L133.56 125.24L133.82 125.61L134.08 126.05L134.34 126.56L134.60 127.15L134.86 127.80L135.12 128.50L135.38 129.26L135.65 130.05L135.91 130.88L136.17 131.74L136.43 132.61L136.69 133.49L136.95 134.37L137.21 135.25L137.47 136.10L137.73 136.92L137.99 137.72L138.25 138.47L138.51 139.16L138.77 139.80L139.03 140.38L139.29 140.89L139.55 141.32L139.81 141.68L140.07 141.95L140.33 142.13L140.59 142.23L140.85 142.24L141.11 142.17L141.37 142.00L141.64 141.75L141.90 141.42L142.16 141.00L142.42 140.51L142.68 139.95L142.94 139.33L143.20 138.64L143.46 137.91L143.72 137.13L143.98 136.31L144.24 135.46L144.50 134.59L144.76 133.71L145.02 132.83L145.28 131.96L145.54 131.10L145.80 130.26L146.06 129.45L146.32 128.69L146.58 127.97L146.84 127.31L147.10 126.70L147.36 126.17L147.63 125.71L147.89 125.32L148.15 125.02L148.41 124.80L148.67 124.67L148.93 124.63L149.19 124.67L149.45 124.80L149.71 125.02L149.97 125.32L150.23 125.71L150.49 126.17L150.75 126.70L151.01 127.31L151.27 127.97L151.53 128.69L151.79 129.45L152.05 130.26L152.31 131.10L152.57 131.96L152.83 132.83L153.09 133.71L153.35 134.59L153.62 135.46L153.88 136.31L154.14 137.13L154.40 137.91L154.66 138.64L154.92 139.33L155.18 139.95L155.44 140.51L155.70 141.00L155.96 141.42L156.22 141.75L156.48 142.00L156.74 142.17L157.00 142.24L157.26 142.23L157.52 142.13L157.78 141.95L158.04 141.68L158.30 141.32L158.56 140.89L158.82 140.38L159.08 139.80L159.34 139.16L159.61 138.47L159.87 137.72L160.13 136.92L160.39 136.10L160.65 135.25L160.91 134.37L161.17 133.49L161.43 132.61L161.69 131.74L161.95 130.88L162.21 130.05L162.47 129.26L162.73 128.50L162.99 127.80L163.25 127.15L163.51 126.56L163.77 126.05L164.03 125.61L164.29 125.24L164.55 124.96L164.81 124.76L165.07 124.65L165.33 124.63" stroke="#00f" stroke-width="2.7"/>
</g>
<path d="M108.3 122.3H162.6M108.3 162.2H162.6" stroke="#222" stroke-width="0.9"/>
<path d="M108.3 122.3V162.2M162.6 122.3V162.2" stroke="#333" stroke-width="0.8" stroke-dasharray="1.2 1.2"/>
<text x="107.5" y="125.6" text-anchor="end" style="font-family:'Liberation Serif',serif;font-size:10px;stroke:none" fill="#111">6</text>
<path d="M108.3 122.3h1.5" stroke="#333" stroke-width="0.7"/>
<text x="107.5" y="135.6" text-anchor="end" style="font-family:'Liberation Serif',serif;font-size:10px;stroke:none" fill="#111">0</text>
<path d="M108.3 132.3h1.5" stroke="#333" stroke-width="0.7"/>
<text x="107.5" y="145.6" text-anchor="end" style="font-family:'Liberation Serif',serif;font-size:10px;stroke:none" fill="#111">-6</text>
<path d="M108.3 142.2h1.5" stroke="#333" stroke-width="0.7"/>
<text x="107.5" y="155.5" text-anchor="end" style="font-family:'Liberation Serif',serif;font-size:10px;stroke:none" fill="#111">-12</text>
<path d="M108.3 152.2h1.5" stroke="#333" stroke-width="0.7"/>
<text x="107.5" y="165.5" text-anchor="end" style="font-family:'Liberation Serif',serif;font-size:10px;stroke:none" fill="#111">-18</text>
<path d="M108.3 162.2h1.5" stroke="#333" stroke-width="0.7"/>
<path d="M131.5 162.2v-1.5" stroke="#333" stroke-width="0.7"/>
<text x="131.5" y="170.1" text-anchor="middle" style="font-family:'Liberation Serif',serif;font-size:9.8px;stroke:none" fill="#111">280</text>
<path d="M157.5 162.2v-1.5" stroke="#333" stroke-width="0.7"/>
<text x="157.5" y="170.1" text-anchor="middle" style="font-family:'Liberation Serif',serif;font-size:9.8px;stroke:none" fill="#111">300</text>
</g>
</svg></body></html>
